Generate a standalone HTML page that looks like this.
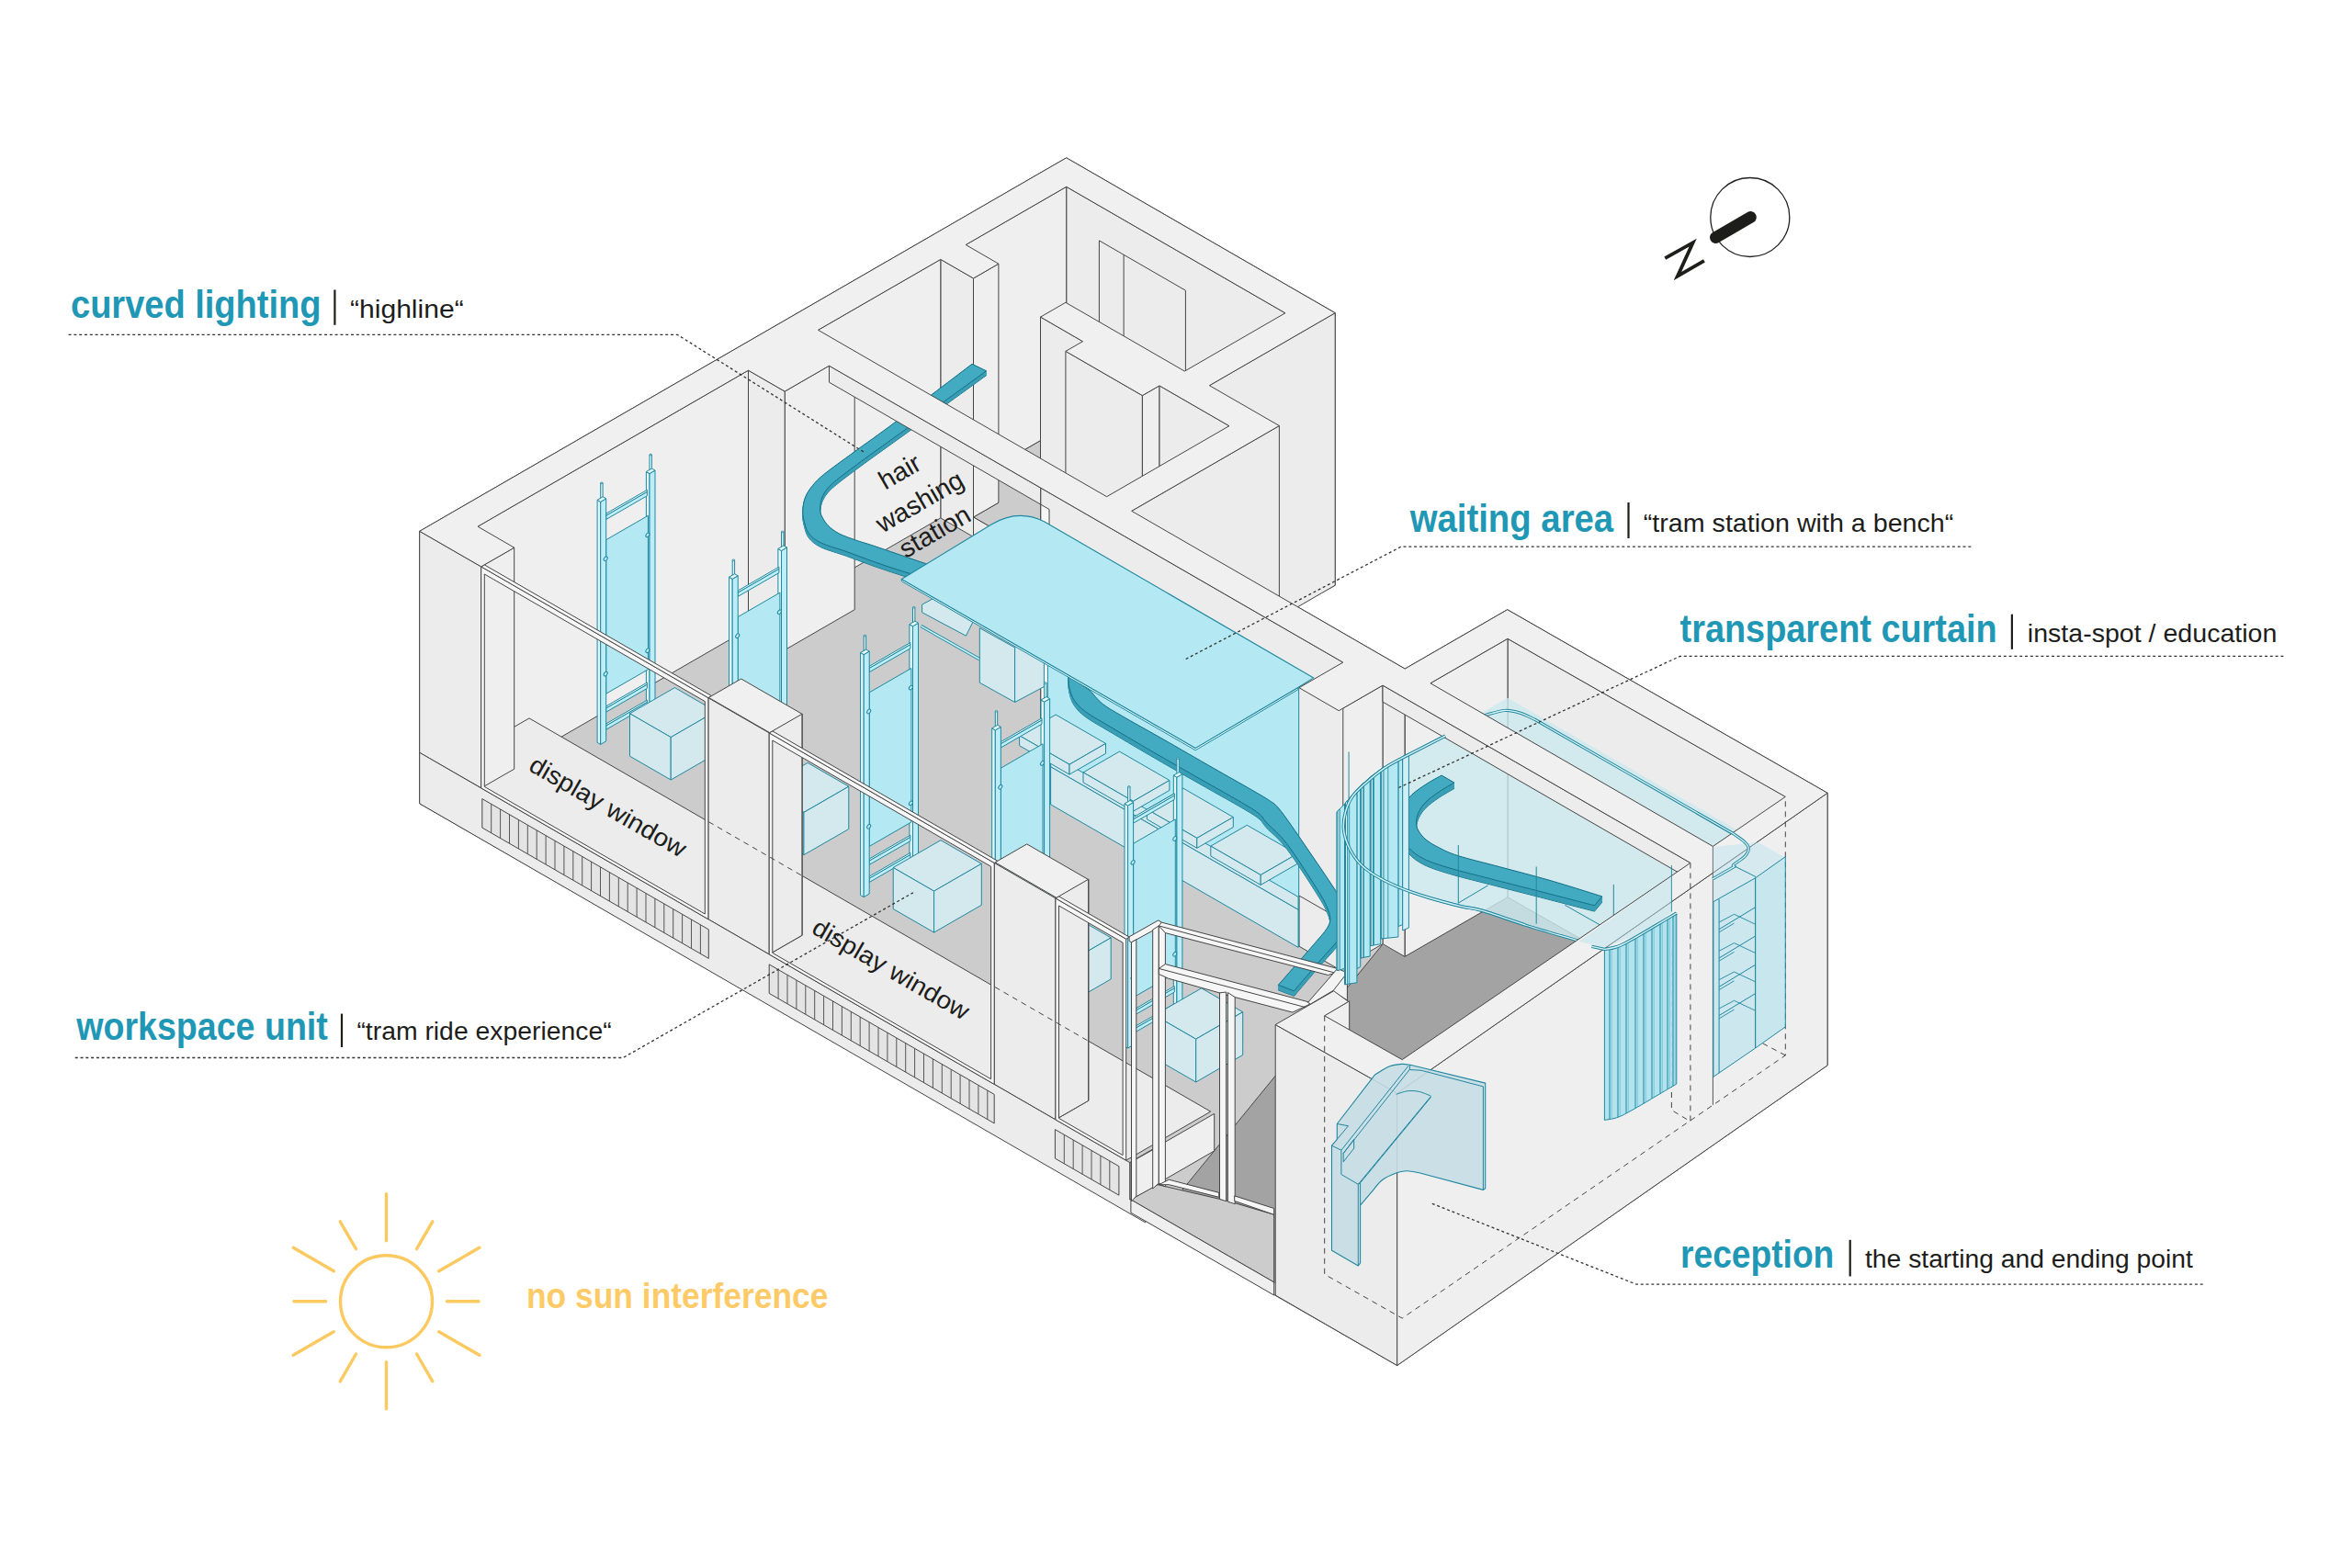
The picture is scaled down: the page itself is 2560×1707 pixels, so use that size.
<!DOCTYPE html>
<html><head><meta charset="utf-8"><title>diagram</title>
<style>html,body{margin:0;padding:0;background:#fff}svg{display:block}text{font-family:"Liberation Sans",sans-serif}</style>
</head><body>
<svg width="2560" height="1707" viewBox="0 0 2560 1707">
<rect width="2560" height="1707" fill="#fff"/>
<polygon points="1160.7,171.8 1453.2,340.7 1453.2,637.2 1411.4,660.1 1529.2,728.1 1640.7,663.7 1989.1,863.3 1989.1,1159.8 1520.7,1486.5 456.7,874.8 456.7,578.3" fill="#ececec" stroke="#454545" stroke-width="1"/>
<g stroke-linejoin="round">
<polygon points="1160.7,463.3 1398.9,600.8 1289.4,664.1 1159.9,589.3 1132.5,605.1 1059.5,563 1086.9,547.2 1051.2,526.5" fill="#cccccc" stroke="#454545" stroke-width="1"/>
<polygon points="1160.7,203.3 1398.9,340.8 1398.9,600.8 1160.7,463.3" fill="#ececec" stroke="#454545" stroke-width="1"/>
<polygon points="1051.2,266.5 1160.7,203.3 1160.7,463.3 1051.2,526.5" fill="#efefef" stroke="#454545" stroke-width="1"/>
<polyline points="1196.4,261.9 1196.4,483.9" stroke="#454545" stroke-width="1" fill="none"/>
<polyline points="1196.4,261.9 1290.4,316.2" stroke="#454545" stroke-width="1" fill="none"/>
<polyline points="1223.1,277.3 1223.1,499.3" stroke="#454545" stroke-width="1" fill="none"/>
<polyline points="1290.4,316.2 1290.4,538.2" stroke="#454545" stroke-width="1" fill="none"/>
<polygon points="1059.5,303 1086.9,287.2 1086.9,547.2 1059.5,563" fill="#efefef" stroke="#454545" stroke-width="1"/>
<polygon points="1316.4,419.7 1453.2,340.7 1453.2,637.2 1316.4,716.2" fill="#ececec" stroke="#454545" stroke-width="1"/>
<polygon points="1641,976.8 1946.7,1150.7 1525.7,1435.4 1441.7,1386.9 1387.7,1397.3 1262.7,1325.1 1504.7,1028.3 1529.2,1041.3" fill="#a3a3a3" stroke="none" stroke-width="1"/>
<polygon points="1023.8,563.9 1337.9,745.2 1204.6,822.2 1461.8,1002.6 1414,1030.2 1457.2,1055.2 1504.7,1028.3 1262.7,1325.1 484,875.5" fill="#cccccc" stroke="none" stroke-width="1"/>
<polyline points="1504.7,1028.3 1262.7,1325.1" stroke="#454545" stroke-width="1" fill="none"/>
<polygon points="1059.5,563 1132.5,605.1 1132.5,626.6 1059.5,584.5" fill="#ececec" stroke="#454545" stroke-width="1"/>
<polygon points="1023.8,282.4 1059.5,303 1059.5,584.5 1023.8,563.9" fill="#ececec" stroke="#454545" stroke-width="1"/>
<polygon points="890.5,359.3 1023.8,282.4 1023.8,563.9 890.5,640.8" fill="#efefef" stroke="#454545" stroke-width="1"/>
<polygon points="1132.5,345.1 1178.5,371.7 1178.5,653.2 1132.5,626.6" fill="#ececec" stroke="#454545" stroke-width="1"/>
<polygon points="1159.9,382.4 1243.4,430.6 1243.4,712.1 1159.9,663.9" fill="#ececec" stroke="#454545" stroke-width="1"/>
<polygon points="1243.4,430.6 1262,419.9 1262,701.4 1243.4,712.1" fill="#efefef" stroke="#454545" stroke-width="1"/>
<polygon points="1262,419.9 1337.9,463.7 1337.9,745.2 1262,701.4" fill="#ececec" stroke="#454545" stroke-width="1"/>
<polygon points="1231.7,556.3 1392.4,463.5 1392.4,760 1231.7,852.8" fill="#ececec" stroke="#454545" stroke-width="1"/>
<polygon points="854.2,426.1 930.2,382.2 930.2,663.7 854.2,707.6" fill="#efefef" stroke="#454545" stroke-width="1"/>
<polygon points="814.5,403.2 854.2,426.1 854.2,707.6 814.5,684.7" fill="#ececec" stroke="#454545" stroke-width="1"/>
<polygon points="520,573.2 814.5,403.2 814.5,684.7 520,854.7" fill="#efefef" stroke="#454545" stroke-width="1"/>
<polygon points="1641,695.3 1946.7,869.2 1946.7,1150.7 1641,976.8" fill="#ececec" stroke="#454545" stroke-width="1"/>
<polygon points="1529.2,759.8 1641,695.3 1641,976.8 1529.2,1041.3" fill="#efefef" stroke="#454545" stroke-width="1"/>
<polygon points="1505,746.1 1529,759.9 1529,1041.4 1505,1027.6" fill="#ececec" stroke="#454545" stroke-width="1"/>
<polygon points="1457.2,773.7 1505,746.1 1505,1027.6 1457.2,1055.2" fill="#efefef" stroke="#454545" stroke-width="1"/>
<polygon points="1414,748.7 1457.2,773.7 1457.2,1055.2 1414,1030.2" fill="#ececec" stroke="#454545" stroke-width="1"/>
</g>
<path d="M1058 401.1 C1044.2 411.5 996.6 447.8 975.3 463.7 C954 479.6 943.5 486.7 930.4 496.3 C917.3 505.9 904.5 514.9 896.7 521.3 C888.9 527.7 886.9 530.3 883.5 534.6 C880.1 538.8 877.9 542.5 876.3 546.8 C874.7 551 874 555.8 873.8 560.1 C873.6 564.4 874.2 568.1 875.3 572.4 C876.4 576.6 877.3 581.7 880.4 585.6 C883.5 589.5 886.9 592.5 893.7 595.8 C900.5 599.1 911.7 601.9 921.2 605.3 C930.8 608.7 941 612.8 951 616.3 C961 619.8 971.2 623.2 981 626.3 C990.8 629.4 1005.2 633.4 1010 634.8 L1030 625.8 C1025.5 624.3 1015.8 621.2 1002.8 616.8 C989.8 612.4 963.7 603.3 951.8 599.3 C939.9 595.3 937.8 595.1 931.4 592.8 C925 590.5 918.2 588.3 913.1 585.6 C908 582.9 904 579.8 900.8 576.4 C897.6 573 895.1 568.4 893.7 565.2 C892.4 562 892.5 560.1 892.7 557 C892.9 553.9 893.4 550.2 894.7 546.8 C896.1 543.4 897.7 540.2 900.8 536.6 C903.9 533 906.3 530.8 913.1 525.4 C919.9 520 929.3 513 941.6 504 C953.9 495 965 487.2 987 471.3 C1009 455.4 1059.2 419.1 1073.6 408.6 Z" fill="#3a9fb6" stroke="#136f86" stroke-width="1"/>
<path d="M1058 400.6 C1044.2 411 996.6 447.3 975.3 463.2 C954 479 943.5 486.2 930.4 495.8 C917.3 505.4 904.5 514.4 896.7 520.8 C888.9 527.1 886.9 529.8 883.5 534.1 C880.1 538.3 877.9 542 876.3 546.3 C874.7 550.5 874 555.3 873.8 559.6 C873.6 563.8 874.2 567.6 875.3 571.9 C876.4 576.1 877.3 581.2 880.4 585.1 C883.5 589 886.9 592 893.7 595.3 C900.5 598.5 911.7 601.4 921.2 604.8 C930.8 608.2 941 612.3 951 615.8 C961 619.3 971.2 622.7 981 625.8 C990.8 628.9 1005.2 632.9 1010 634.3 L1030 625.3 C1025.5 623.8 1015.8 620.7 1002.8 616.3 C989.8 611.9 963.7 602.8 951.8 598.8 C939.9 594.8 937.8 594.5 931.4 592.3 C925 590 918.2 587.8 913.1 585.1 C908 582.3 904 579.3 900.8 575.9 C897.6 572.5 895.1 567.9 893.7 564.7 C892.4 561.4 892.5 559.5 892.7 556.5 C892.9 553.4 893.4 549.7 894.7 546.3 C896.1 542.9 897.7 539.6 900.8 536.1 C903.9 532.5 906.3 530.3 913.1 524.9 C919.9 519.4 929.3 512.5 941.6 503.5 C953.9 494.4 965 486.7 987 470.8 C1009 454.9 1059.2 418.5 1073.6 408.1 Z" fill="#3a9fb6" stroke="#3a9fb6" stroke-width="0.6"/>
<path d="M1058 400 C1044.2 410.5 996.6 446.8 975.3 462.6 C954 478.5 943.5 485.6 930.4 495.2 C917.3 504.8 904.5 513.9 896.7 520.2 C888.9 526.6 886.9 529.3 883.5 533.5 C880.1 537.8 877.9 541.5 876.3 545.7 C874.7 550 874 554.8 873.8 559 C873.6 563.3 874.2 567.1 875.3 571.3 C876.4 575.6 877.3 580.6 880.4 584.5 C883.5 588.4 886.9 591.5 893.7 594.7 C900.5 598 911.7 600.8 921.2 604.2 C930.8 607.6 941 611.7 951 615.2 C961 618.7 971.2 622.1 981 625.2 C990.8 628.3 1005.2 632.3 1010 633.7 L1030 624.7 C1025.5 623.2 1015.8 620.1 1002.8 615.7 C989.8 611.3 963.7 602.2 951.8 598.2 C939.9 594.2 937.8 594 931.4 591.7 C925 589.5 918.2 587.3 913.1 584.5 C908 581.8 904 578.7 900.8 575.3 C897.6 571.9 895.1 567.4 893.7 564.1 C892.4 560.9 892.5 559 892.7 555.9 C892.9 552.9 893.4 549.1 894.7 545.7 C896.1 542.3 897.7 539.1 900.8 535.5 C903.9 532 906.3 529.8 913.1 524.3 C919.9 518.9 929.3 511.9 941.6 502.9 C953.9 493.9 965 486.1 987 470.2 C1009 454.3 1059.2 418 1073.6 407.5 Z" fill="#3a9fb6" stroke="#3a9fb6" stroke-width="0.6"/>
<path d="M1058 399.5 C1044.2 409.9 996.6 446.2 975.3 462.1 C954 478 943.5 485.1 930.4 494.7 C917.3 504.3 904.5 513.3 896.7 519.7 C888.9 526.1 886.9 528.8 883.5 533 C880.1 537.2 877.9 541 876.3 545.2 C874.7 549.5 874 554.2 873.8 558.5 C873.6 562.8 874.2 566.6 875.3 570.8 C876.4 575.1 877.3 580.1 880.4 584 C883.5 587.9 886.9 590.9 893.7 594.2 C900.5 597.5 911.7 600.3 921.2 603.7 C930.8 607.1 941 611.2 951 614.7 C961 618.2 971.2 621.6 981 624.7 C990.8 627.8 1005.2 631.8 1010 633.2 L1030 624.2 C1025.5 622.7 1015.8 619.6 1002.8 615.2 C989.8 610.8 963.7 601.7 951.8 597.7 C939.9 593.7 937.8 593.5 931.4 591.2 C925 588.9 918.2 586.7 913.1 584 C908 581.3 904 578.2 900.8 574.8 C897.6 571.4 895.1 566.8 893.7 563.6 C892.4 560.4 892.5 558.5 892.7 555.4 C892.9 552.3 893.4 548.6 894.7 545.2 C896.1 541.8 897.7 538.6 900.8 535 C903.9 531.4 906.3 529.2 913.1 523.8 C919.9 518.4 929.3 511.4 941.6 502.4 C953.9 493.4 965 485.6 987 469.7 C1009 453.8 1059.2 417.4 1073.6 407 Z" fill="#3a9fb6" stroke="#3a9fb6" stroke-width="0.6"/>
<path d="M1058 399 C1044.2 409.4 996.6 445.7 975.3 461.6 C954 477.4 943.5 484.6 930.4 494.2 C917.3 503.8 904.5 512.8 896.7 519.2 C888.9 525.5 886.9 528.2 883.5 532.5 C880.1 536.7 877.9 540.4 876.3 544.7 C874.7 548.9 874 553.7 873.8 558 C873.6 562.2 874.2 566 875.3 570.3 C876.4 574.5 877.3 579.6 880.4 583.5 C883.5 587.4 886.9 590.4 893.7 593.7 C900.5 596.9 911.7 599.8 921.2 603.2 C930.8 606.6 941 610.7 951 614.2 C961 617.7 971.2 621.1 981 624.2 C990.8 627.2 1005.2 631.2 1010 632.7 L1030 623.7 C1025.5 622.2 1015.8 619.1 1002.8 614.7 C989.8 610.2 963.7 601.2 951.8 597.2 C939.9 593.2 937.8 592.9 931.4 590.7 C925 588.4 918.2 586.2 913.1 583.5 C908 580.7 904 577.7 900.8 574.3 C897.6 570.9 895.1 566.3 893.7 563.1 C892.4 559.8 892.5 557.9 892.7 554.9 C892.9 551.8 893.4 548.1 894.7 544.7 C896.1 541.3 897.7 538 900.8 534.5 C903.9 530.9 906.3 528.7 913.1 523.3 C919.9 517.8 929.3 510.9 941.6 501.9 C953.9 492.9 965 485.1 987 469.2 C1009 453.3 1059.2 416.9 1073.6 406.5 Z" fill="#3a9fb6" stroke="#3a9fb6" stroke-width="0.6"/>
<path d="M1058 398.4 C1044.2 408.9 996.6 445.2 975.3 461 C954 476.9 943.5 484 930.4 493.6 C917.3 503.2 904.5 512.2 896.7 518.6 C888.9 525 886.9 527.7 883.5 531.9 C880.1 536.2 877.9 539.9 876.3 544.1 C874.7 548.4 874 553.2 873.8 557.4 C873.6 561.7 874.2 565.5 875.3 569.7 C876.4 574 877.3 579 880.4 582.9 C883.5 586.8 886.9 589.9 893.7 593.1 C900.5 596.4 911.7 599.2 921.2 602.6 C930.8 606 941 610.1 951 613.6 C961 617.1 971.2 620.5 981 623.6 C990.8 626.7 1005.2 630.7 1010 632.1 L1030 623.1 C1025.5 621.6 1015.8 618.5 1002.8 614.1 C989.8 609.7 963.7 600.6 951.8 596.6 C939.9 592.6 937.8 592.4 931.4 590.1 C925 587.9 918.2 585.7 913.1 582.9 C908 580.2 904 577.1 900.8 573.7 C897.6 570.3 895.1 565.8 893.7 562.5 C892.4 559.3 892.5 557.4 892.7 554.3 C892.9 551.3 893.4 547.5 894.7 544.1 C896.1 540.7 897.7 537.5 900.8 533.9 C903.9 530.4 906.3 528.2 913.1 522.7 C919.9 517.3 929.3 510.3 941.6 501.3 C953.9 492.3 965 484.5 987 468.6 C1009 452.7 1059.2 416.4 1073.6 405.9 Z" fill="#3a9fb6" stroke="#3a9fb6" stroke-width="0.6"/>
<path d="M1058 397.9 C1044.2 408.3 996.6 444.6 975.3 460.5 C954 476.4 943.5 483.5 930.4 493.1 C917.3 502.7 904.5 511.7 896.7 518.1 C888.9 524.5 886.9 527.1 883.5 531.4 C880.1 535.6 877.9 539.4 876.3 543.6 C874.7 547.9 874 552.6 873.8 556.9 C873.6 561.2 874.2 565 875.3 569.2 C876.4 573.5 877.3 578.5 880.4 582.4 C883.5 586.3 886.9 589.3 893.7 592.6 C900.5 595.9 911.7 598.7 921.2 602.1 C930.8 605.5 941 609.6 951 613.1 C961 616.6 971.2 620 981 623.1 C990.8 626.2 1005.2 630.2 1010 631.6 L1030 622.6 C1025.5 621.1 1015.8 618 1002.8 613.6 C989.8 609.2 963.7 600.1 951.8 596.1 C939.9 592.1 937.8 591.9 931.4 589.6 C925 587.3 918.2 585.1 913.1 582.4 C908 579.7 904 576.6 900.8 573.2 C897.6 569.8 895.1 565.2 893.7 562 C892.4 558.8 892.5 556.9 892.7 553.8 C892.9 550.7 893.4 547 894.7 543.6 C896.1 540.2 897.7 537 900.8 533.4 C903.9 529.8 906.3 527.6 913.1 522.2 C919.9 516.8 929.3 509.8 941.6 500.8 C953.9 491.8 965 484 987 468.1 C1009 452.2 1059.2 415.9 1073.6 405.4 Z" fill="#3a9fb6" stroke="#3a9fb6" stroke-width="0.6"/>
<path d="M1058 397.4 C1044.2 407.8 996.6 444.1 975.3 460 C954 475.8 943.5 483 930.4 492.6 C917.3 502.2 904.5 511.2 896.7 517.6 C888.9 524 886.9 526.6 883.5 530.9 C880.1 535.1 877.9 538.8 876.3 543.1 C874.7 547.3 874 552.1 873.8 556.4 C873.6 560.6 874.2 564.4 875.3 568.7 C876.4 572.9 877.3 578 880.4 581.9 C883.5 585.8 886.9 588.8 893.7 592.1 C900.5 595.4 911.7 598.2 921.2 601.6 C930.8 605 941 609.1 951 612.6 C961 616.1 971.2 619.5 981 622.6 C990.8 625.7 1005.2 629.7 1010 631.1 L1030 622.1 C1025.5 620.6 1015.8 617.5 1002.8 613.1 C989.8 608.7 963.7 599.6 951.8 595.6 C939.9 591.6 937.8 591.4 931.4 589.1 C925 586.8 918.2 584.6 913.1 581.9 C908 579.1 904 576.1 900.8 572.7 C897.6 569.3 895.1 564.7 893.7 561.5 C892.4 558.2 892.5 556.3 892.7 553.3 C892.9 550.2 893.4 546.5 894.7 543.1 C896.1 539.7 897.7 536.4 900.8 532.9 C903.9 529.3 906.3 527.1 913.1 521.7 C919.9 516.2 929.3 509.3 941.6 500.3 C953.9 491.2 965 483.5 987 467.6 C1009 451.7 1059.2 415.3 1073.6 404.9 Z" fill="#3a9fb6" stroke="#3a9fb6" stroke-width="0.6"/>
<path d="M1058 396.8 C1044.2 407.3 996.6 443.6 975.3 459.4 C954 475.3 943.5 482.4 930.4 492 C917.3 501.6 904.5 510.6 896.7 517 C888.9 523.4 886.9 526.1 883.5 530.3 C880.1 534.6 877.9 538.3 876.3 542.5 C874.7 546.8 874 551.6 873.8 555.8 C873.6 560.1 874.2 563.9 875.3 568.1 C876.4 572.4 877.3 577.4 880.4 581.3 C883.5 585.2 886.9 588.2 893.7 591.5 C900.5 594.8 911.7 597.6 921.2 601 C930.8 604.4 941 608.5 951 612 C961 615.5 971.2 618.9 981 622 C990.8 625.1 1005.2 629.1 1010 630.5 L1030 621.5 C1025.5 620 1015.8 616.9 1002.8 612.5 C989.8 608.1 963.7 599 951.8 595 C939.9 591 937.8 590.8 931.4 588.5 C925 586.2 918.2 584.1 913.1 581.3 C908 578.6 904 575.5 900.8 572.1 C897.6 568.7 895.1 564.2 893.7 560.9 C892.4 557.7 892.5 555.8 892.7 552.7 C892.9 549.7 893.4 545.9 894.7 542.5 C896.1 539.1 897.7 535.9 900.8 532.3 C903.9 528.8 906.3 526.6 913.1 521.1 C919.9 515.7 929.3 508.8 941.6 499.7 C953.9 490.7 965 482.9 987 467 C1009 451.1 1059.2 414.8 1073.6 404.3 Z" fill="#3a9fb6" stroke="#3a9fb6" stroke-width="0.6"/>
<path d="M1058 396.3 C1044.2 406.7 996.6 443 975.3 458.9 C954 474.8 943.5 481.9 930.4 491.5 C917.3 501.1 904.5 510.1 896.7 516.5 C888.9 522.9 886.9 525.5 883.5 529.8 C880.1 534 877.9 537.8 876.3 542 C874.7 546.2 874 551 873.8 555.3 C873.6 559.6 874.2 563.4 875.3 567.6 C876.4 571.9 877.3 576.9 880.4 580.8 C883.5 584.7 886.9 587.7 893.7 591 C900.5 594.3 911.7 597.1 921.2 600.5 C930.8 603.9 941 608 951 611.5 C961 615 971.2 618.4 981 621.5 C990.8 624.6 1005.2 628.6 1010 630 L1030 621 C1025.5 619.5 1015.8 616.4 1002.8 612 C989.8 607.6 963.7 598.5 951.8 594.5 C939.9 590.5 937.8 590.3 931.4 588 C925 585.7 918.2 583.5 913.1 580.8 C908 578.1 904 575 900.8 571.6 C897.6 568.2 895.1 563.6 893.7 560.4 C892.4 557.2 892.5 555.3 892.7 552.2 C892.9 549.1 893.4 545.4 894.7 542 C896.1 538.6 897.7 535.4 900.8 531.8 C903.9 528.2 906.3 526 913.1 520.6 C919.9 515.2 929.3 508.2 941.6 499.2 C953.9 490.2 965 482.4 987 466.5 C1009 450.6 1059.2 414.2 1073.6 403.8 Z" fill="#43abc1" stroke="#136f86" stroke-width="1"/>
<path d="M1641 759.8 L1942.4 933.3 L1942.4 946.5 L1819.6 993.5 L1764.5 1030.2 C1761.8 1030.5 1756 1033.2 1748.2 1032.2 C1740.4 1031.2 1722.7 1025.4 1717.6 1024.1 C1708 1021.2 1677.3 1012.5 1660 1007 C1642.7 1001.5 1625.2 994.8 1613.5 991.4 C1601.8 988 1599.8 989 1590 986.6 C1580.2 984.2 1565.8 980.5 1554.4 977 C1543.1 973.5 1531.5 969.6 1521.9 965.6 C1512.3 961.6 1504 957.4 1497 953.1 C1490 948.8 1484.6 944.8 1479.8 939.7 C1475 934.6 1471.2 928.6 1468.3 922.5 C1465.4 916.4 1463.2 909.7 1462.5 903.3 C1461.8 896.9 1462.8 890.2 1464.4 884.2 C1466 878.2 1468.3 872.4 1472.1 867 C1475.9 861.6 1481.7 856.8 1487.4 851.7 C1493.2 846.6 1500 840.9 1506.6 836.4 C1513.1 831.9 1523.3 826.8 1526.7 824.9 L1556.9 808.3 Z" fill="#cce8ee" fill-opacity="0.8"/>
<path d="M1617.6 778.2 C1621 777.4 1631.9 773.9 1638 773.5 C1644.1 773.1 1648.9 774.5 1654.3 776.1 C1659.7 777.7 1667.9 782.1 1670.6 783.3 L1886.9 907.8 C1889 909.3 1896.5 914.2 1899.2 916.9 C1901.9 919.6 1903.3 921.5 1903.3 924.1 C1903.3 926.7 1901.9 929.3 1899.2 932.2 C1896.5 935.1 1889 939.9 1886.9 941.4 L1824.7 994.5 C1814.7 1000.5 1777.2 1023.9 1764.5 1030.2 C1751.8 1036.5 1756 1033.2 1748.2 1032.2 C1740.4 1031.2 1722.7 1025.4 1717.6 1024.1 C1708 1021.2 1677.3 1012.5 1660 1007 C1642.7 1001.5 1625.2 994.8 1613.5 991.4 C1601.8 988 1599.8 989 1590 986.6 C1580.2 984.2 1565.8 980.5 1554.4 977 C1543.1 973.5 1531.5 969.6 1521.9 965.6 C1512.3 961.6 1504 957.4 1497 953.1 C1490 948.8 1484.6 944.8 1479.8 939.7 C1475 934.6 1471.2 928.6 1468.3 922.5 C1465.4 916.4 1463.2 909.7 1462.5 903.3 C1461.8 896.9 1462.8 890.2 1464.4 884.2 C1466 878.2 1468.3 872.4 1472.1 867 C1475.9 861.6 1481.7 856.8 1487.4 851.7 C1493.2 846.6 1500 840.9 1506.6 836.4 C1513.1 831.9 1523.3 826.8 1526.7 824.9 Z" fill="none" stroke="#1f879f" stroke-width="3.2"/>
<path d="M1617.6 778.2 C1621 777.4 1631.9 773.9 1638 773.5 C1644.1 773.1 1648.9 774.5 1654.3 776.1 C1659.7 777.7 1667.9 782.1 1670.6 783.3 L1886.9 907.8 C1889 909.3 1896.5 914.2 1899.2 916.9 C1901.9 919.6 1903.3 921.5 1903.3 924.1 C1903.3 926.7 1901.9 929.3 1899.2 932.2 C1896.5 935.1 1889 939.9 1886.9 941.4 L1824.7 994.5 C1814.7 1000.5 1777.2 1023.9 1764.5 1030.2 C1751.8 1036.5 1756 1033.2 1748.2 1032.2 C1740.4 1031.2 1722.7 1025.4 1717.6 1024.1 C1708 1021.2 1677.3 1012.5 1660 1007 C1642.7 1001.5 1625.2 994.8 1613.5 991.4 C1601.8 988 1599.8 989 1590 986.6 C1580.2 984.2 1565.8 980.5 1554.4 977 C1543.1 973.5 1531.5 969.6 1521.9 965.6 C1512.3 961.6 1504 957.4 1497 953.1 C1490 948.8 1484.6 944.8 1479.8 939.7 C1475 934.6 1471.2 928.6 1468.3 922.5 C1465.4 916.4 1463.2 909.7 1462.5 903.3 C1461.8 896.9 1462.8 890.2 1464.4 884.2 C1466 878.2 1468.3 872.4 1472.1 867 C1475.9 861.6 1481.7 856.8 1487.4 851.7 C1493.2 846.6 1500 840.9 1506.6 836.4 C1513.1 831.9 1523.3 826.8 1526.7 824.9 Z" fill="none" stroke="#d9f3f8" stroke-width="1.3"/>
<polyline points="1703.3,985.3 1764.5,1020" stroke="#1f879f" stroke-width="1" fill="none"/>
<polyline points="1586.9,983.3 1619.6,963.9" stroke="#1f879f" stroke-width="1" fill="none"/>
<path d="M1569.1 850.4 C1566.4 851.9 1558.5 855.9 1553.1 859.5 C1547.6 863 1540.9 867.4 1536.5 871.6 C1532.1 875.9 1528.8 880.5 1526.5 884.9 C1524.2 889.3 1523.2 893.5 1522.7 898.2 C1522.1 902.8 1521.7 907.4 1523.4 912.5 C1525.2 917.7 1528.8 924.3 1533.2 929.1 C1537.5 933.9 1542.4 937.6 1549.7 941.3 C1557.1 945 1565.4 947.6 1577.4 951.2 C1589.4 954.8 1605.9 958.8 1621.6 962.8 C1637.3 966.9 1652.4 970.7 1671.3 975.5 C1690.3 980.4 1724.8 989.4 1735.5 992.1 L1743.8 982.2 C1734.4 979.3 1706.4 970.4 1687.9 965 C1669.4 959.7 1649.4 954.6 1632.7 950.1 C1615.9 945.6 1598.4 941.5 1587.3 938 C1576.3 934.5 1572.2 932.1 1566.3 929.1 C1560.4 926.2 1555.7 923.4 1552 920.3 C1548.2 917.1 1545.4 913.4 1543.7 910.3 C1541.9 907.2 1541.4 904.8 1541.5 901.5 C1541.5 898.2 1542.5 894.1 1544.2 890.4 C1546 886.7 1548.3 883 1552 879.4 C1555.6 875.7 1561.2 871.8 1566.3 868.3 C1571.5 864.8 1580.1 860 1582.9 858.4 Z" fill="#3a9fb6" stroke="#136f86" stroke-width="1"/>
<path d="M1569.1 849.9 C1566.4 851.4 1558.5 855.4 1553.1 858.9 C1547.6 862.5 1540.9 866.9 1536.5 871.1 C1532.1 875.3 1528.8 879.9 1526.5 884.4 C1524.2 888.8 1523.2 893 1522.7 897.6 C1522.1 902.2 1521.7 906.8 1523.4 912 C1525.2 917.2 1528.8 923.8 1533.2 928.6 C1537.5 933.4 1542.4 937.1 1549.7 940.7 C1557.1 944.4 1565.4 947.1 1577.4 950.7 C1589.4 954.3 1605.9 958.2 1621.6 962.3 C1637.3 966.4 1652.4 970.1 1671.3 975 C1690.3 979.9 1724.8 988.8 1735.5 991.6 L1743.8 981.6 C1734.4 978.8 1706.4 969.9 1687.9 964.5 C1669.4 959.2 1649.4 954.1 1632.7 949.6 C1615.9 945.1 1598.4 940.9 1587.3 937.4 C1576.3 933.9 1572.2 931.5 1566.3 928.6 C1560.4 925.6 1555.7 922.9 1552 919.7 C1548.2 916.6 1545.4 912.9 1543.7 909.8 C1541.9 906.7 1541.4 904.3 1541.5 900.9 C1541.5 897.6 1542.5 893.6 1544.2 889.9 C1546 886.2 1548.3 882.5 1552 878.8 C1555.6 875.2 1561.2 871.3 1566.3 867.8 C1571.5 864.3 1580.1 859.5 1582.9 857.8 Z" fill="#3a9fb6" stroke="#3a9fb6" stroke-width="0.6"/>
<path d="M1569.1 849.3 C1566.4 850.9 1558.5 854.9 1553.1 858.4 C1547.6 862 1540.9 866.3 1536.5 870.6 C1532.1 874.8 1528.8 879.4 1526.5 883.8 C1524.2 888.3 1523.2 892.5 1522.7 897.1 C1522.1 901.7 1521.7 906.3 1523.4 911.5 C1525.2 916.6 1528.8 923.3 1533.2 928.1 C1537.5 932.8 1542.4 936.5 1549.7 940.2 C1557.1 943.9 1565.4 946.6 1577.4 950.2 C1589.4 953.8 1605.9 957.7 1621.6 961.8 C1637.3 965.8 1652.4 969.6 1671.3 974.5 C1690.3 979.4 1724.8 988.3 1735.5 991.1 L1743.8 981.1 C1734.4 978.3 1706.4 969.3 1687.9 964 C1669.4 958.6 1649.4 953.6 1632.7 949.1 C1615.9 944.5 1598.4 940.4 1587.3 936.9 C1576.3 933.4 1572.2 931 1566.3 928.1 C1560.4 925.1 1555.7 922.3 1552 919.2 C1548.2 916.1 1545.4 912.4 1543.7 909.3 C1541.9 906.1 1541.4 903.7 1541.5 900.4 C1541.5 897.1 1542.5 893.1 1544.2 889.4 C1546 885.7 1548.3 882 1552 878.3 C1555.6 874.6 1561.2 870.8 1566.3 867.3 C1571.5 863.8 1580.1 859 1582.9 857.3 Z" fill="#3a9fb6" stroke="#3a9fb6" stroke-width="0.6"/>
<path d="M1569.1 848.8 C1566.4 850.3 1558.5 854.4 1553.1 857.9 C1547.6 861.4 1540.9 865.8 1536.5 870 C1532.1 874.3 1528.8 878.9 1526.5 883.3 C1524.2 887.7 1523.2 892 1522.7 896.6 C1522.1 901.2 1521.7 905.8 1523.4 911 C1525.2 916.1 1528.8 922.7 1533.2 927.5 C1537.5 932.3 1542.4 936 1549.7 939.7 C1557.1 943.4 1565.4 946 1577.4 949.6 C1589.4 953.2 1605.9 957.2 1621.6 961.2 C1637.3 965.3 1652.4 969.1 1671.3 974 C1690.3 978.8 1724.8 987.8 1735.5 990.5 L1743.8 980.6 C1734.4 977.7 1706.4 968.8 1687.9 963.5 C1669.4 958.1 1649.4 953.1 1632.7 948.5 C1615.9 944 1598.4 939.9 1587.3 936.4 C1576.3 932.9 1572.2 930.5 1566.3 927.5 C1560.4 924.6 1555.7 921.8 1552 918.7 C1548.2 915.6 1545.4 911.9 1543.7 908.7 C1541.9 905.6 1541.4 903.2 1541.5 899.9 C1541.5 896.6 1542.5 892.5 1544.2 888.8 C1546 885.2 1548.3 881.5 1552 877.8 C1555.6 874.1 1561.2 870.2 1566.3 866.7 C1571.5 863.2 1580.1 858.4 1582.9 856.8 Z" fill="#3a9fb6" stroke="#3a9fb6" stroke-width="0.6"/>
<path d="M1569.1 848.3 C1566.4 849.8 1558.5 853.8 1553.1 857.4 C1547.6 860.9 1540.9 865.3 1536.5 869.5 C1532.1 873.8 1528.8 878.4 1526.5 882.8 C1524.2 887.2 1523.2 891.4 1522.7 896.1 C1522.1 900.7 1521.7 905.3 1523.4 910.4 C1525.2 915.6 1528.8 922.2 1533.2 927 C1537.5 931.8 1542.4 935.5 1549.7 939.2 C1557.1 942.9 1565.4 945.5 1577.4 949.1 C1589.4 952.7 1605.9 956.7 1621.6 960.7 C1637.3 964.8 1652.4 968.6 1671.3 973.4 C1690.3 978.3 1724.8 987.3 1735.5 990 L1743.8 980.1 C1734.4 977.2 1706.4 968.3 1687.9 962.9 C1669.4 957.6 1649.4 952.5 1632.7 948 C1615.9 943.5 1598.4 939.4 1587.3 935.9 C1576.3 932.4 1572.2 930 1566.3 927 C1560.4 924.1 1555.7 921.3 1552 918.2 C1548.2 915 1545.4 911.3 1543.7 908.2 C1541.9 905.1 1541.4 902.7 1541.5 899.4 C1541.5 896.1 1542.5 892 1544.2 888.3 C1546 884.6 1548.3 880.9 1552 877.3 C1555.6 873.6 1561.2 869.7 1566.3 866.2 C1571.5 862.7 1580.1 857.9 1582.9 856.3 Z" fill="#3a9fb6" stroke="#3a9fb6" stroke-width="0.6"/>
<path d="M1569.1 847.8 C1566.4 849.3 1558.5 853.3 1553.1 856.8 C1547.6 860.4 1540.9 864.8 1536.5 869 C1532.1 873.2 1528.8 877.8 1526.5 882.3 C1524.2 886.7 1523.2 890.9 1522.7 895.5 C1522.1 900.1 1521.7 904.7 1523.4 909.9 C1525.2 915.1 1528.8 921.7 1533.2 926.5 C1537.5 931.3 1542.4 935 1549.7 938.6 C1557.1 942.3 1565.4 945 1577.4 948.6 C1589.4 952.2 1605.9 956.1 1621.6 960.2 C1637.3 964.3 1652.4 968 1671.3 972.9 C1690.3 977.8 1724.8 986.7 1735.5 989.5 L1743.8 979.5 C1734.4 976.7 1706.4 967.8 1687.9 962.4 C1669.4 957.1 1649.4 952 1632.7 947.5 C1615.9 943 1598.4 938.8 1587.3 935.3 C1576.3 931.8 1572.2 929.4 1566.3 926.5 C1560.4 923.5 1555.7 920.8 1552 917.6 C1548.2 914.5 1545.4 910.8 1543.7 907.7 C1541.9 904.6 1541.4 902.2 1541.5 898.8 C1541.5 895.5 1542.5 891.5 1544.2 887.8 C1546 884.1 1548.3 880.4 1552 876.7 C1555.6 873.1 1561.2 869.2 1566.3 865.7 C1571.5 862.2 1580.1 857.4 1582.9 855.7 Z" fill="#3a9fb6" stroke="#3a9fb6" stroke-width="0.6"/>
<path d="M1569.1 847.2 C1566.4 848.8 1558.5 852.8 1553.1 856.3 C1547.6 859.9 1540.9 864.2 1536.5 868.5 C1532.1 872.7 1528.8 877.3 1526.5 881.7 C1524.2 886.2 1523.2 890.4 1522.7 895 C1522.1 899.6 1521.7 904.2 1523.4 909.4 C1525.2 914.5 1528.8 921.2 1533.2 926 C1537.5 930.7 1542.4 934.4 1549.7 938.1 C1557.1 941.8 1565.4 944.5 1577.4 948.1 C1589.4 951.7 1605.9 955.6 1621.6 959.7 C1637.3 963.7 1652.4 967.5 1671.3 972.4 C1690.3 977.3 1724.8 986.2 1735.5 989 L1743.8 979 C1734.4 976.2 1706.4 967.2 1687.9 961.9 C1669.4 956.5 1649.4 951.5 1632.7 947 C1615.9 942.4 1598.4 938.3 1587.3 934.8 C1576.3 931.3 1572.2 928.9 1566.3 926 C1560.4 923 1555.7 920.2 1552 917.1 C1548.2 914 1545.4 910.3 1543.7 907.2 C1541.9 904 1541.4 901.6 1541.5 898.3 C1541.5 895 1542.5 891 1544.2 887.3 C1546 883.6 1548.3 879.9 1552 876.2 C1555.6 872.5 1561.2 868.7 1566.3 865.2 C1571.5 861.7 1580.1 856.9 1582.9 855.2 Z" fill="#3a9fb6" stroke="#3a9fb6" stroke-width="0.6"/>
<path d="M1569.1 846.7 C1566.4 848.2 1558.5 852.3 1553.1 855.8 C1547.6 859.3 1540.9 863.7 1536.5 867.9 C1532.1 872.2 1528.8 876.8 1526.5 881.2 C1524.2 885.6 1523.2 889.9 1522.7 894.5 C1522.1 899.1 1521.7 903.7 1523.4 908.9 C1525.2 914 1528.8 920.6 1533.2 925.4 C1537.5 930.2 1542.4 933.9 1549.7 937.6 C1557.1 941.3 1565.4 943.9 1577.4 947.5 C1589.4 951.1 1605.9 955.1 1621.6 959.1 C1637.3 963.2 1652.4 967 1671.3 971.9 C1690.3 976.7 1724.8 985.7 1735.5 988.4 L1743.8 978.5 C1734.4 975.6 1706.4 966.7 1687.9 961.4 C1669.4 956 1649.4 951 1632.7 946.4 C1615.9 941.9 1598.4 937.8 1587.3 934.3 C1576.3 930.8 1572.2 928.4 1566.3 925.4 C1560.4 922.5 1555.7 919.7 1552 916.6 C1548.2 913.5 1545.4 909.8 1543.7 906.6 C1541.9 903.5 1541.4 901.1 1541.5 897.8 C1541.5 894.5 1542.5 890.4 1544.2 886.7 C1546 883.1 1548.3 879.4 1552 875.7 C1555.6 872 1561.2 868.1 1566.3 864.6 C1571.5 861.1 1580.1 856.3 1582.9 854.7 Z" fill="#3a9fb6" stroke="#3a9fb6" stroke-width="0.6"/>
<path d="M1569.1 846.2 C1566.4 847.7 1558.5 851.7 1553.1 855.3 C1547.6 858.8 1540.9 863.2 1536.5 867.4 C1532.1 871.7 1528.8 876.3 1526.5 880.7 C1524.2 885.1 1523.2 889.3 1522.7 894 C1522.1 898.6 1521.7 903.2 1523.4 908.3 C1525.2 913.5 1528.8 920.1 1533.2 924.9 C1537.5 929.7 1542.4 933.4 1549.7 937.1 C1557.1 940.8 1565.4 943.4 1577.4 947 C1589.4 950.6 1605.9 954.6 1621.6 958.6 C1637.3 962.7 1652.4 966.5 1671.3 971.3 C1690.3 976.2 1724.8 985.2 1735.5 987.9 L1743.8 978 C1734.4 975.1 1706.4 966.2 1687.9 960.8 C1669.4 955.5 1649.4 950.4 1632.7 945.9 C1615.9 941.4 1598.4 937.3 1587.3 933.8 C1576.3 930.3 1572.2 927.9 1566.3 924.9 C1560.4 922 1555.7 919.2 1552 916.1 C1548.2 912.9 1545.4 909.2 1543.7 906.1 C1541.9 903 1541.4 900.6 1541.5 897.3 C1541.5 894 1542.5 889.9 1544.2 886.2 C1546 882.5 1548.3 878.8 1552 875.2 C1555.6 871.5 1561.2 867.6 1566.3 864.1 C1571.5 860.6 1580.1 855.8 1582.9 854.2 Z" fill="#3a9fb6" stroke="#3a9fb6" stroke-width="0.6"/>
<path d="M1569.1 845.7 C1566.4 847.2 1558.5 851.2 1553.1 854.7 C1547.6 858.3 1540.9 862.7 1536.5 866.9 C1532.1 871.1 1528.8 875.7 1526.5 880.2 C1524.2 884.6 1523.2 888.8 1522.7 893.4 C1522.1 898 1521.7 902.6 1523.4 907.8 C1525.2 913 1528.8 919.6 1533.2 924.4 C1537.5 929.2 1542.4 932.9 1549.7 936.5 C1557.1 940.2 1565.4 942.9 1577.4 946.5 C1589.4 950.1 1605.9 954 1621.6 958.1 C1637.3 962.2 1652.4 965.9 1671.3 970.8 C1690.3 975.7 1724.8 984.6 1735.5 987.4 L1743.8 977.4 C1734.4 974.6 1706.4 965.7 1687.9 960.3 C1669.4 955 1649.4 949.9 1632.7 945.4 C1615.9 940.9 1598.4 936.7 1587.3 933.2 C1576.3 929.7 1572.2 927.3 1566.3 924.4 C1560.4 921.4 1555.7 918.7 1552 915.5 C1548.2 912.4 1545.4 908.7 1543.7 905.6 C1541.9 902.5 1541.4 900.1 1541.5 896.7 C1541.5 893.4 1542.5 889.4 1544.2 885.7 C1546 882 1548.3 878.3 1552 874.6 C1555.6 871 1561.2 867.1 1566.3 863.6 C1571.5 860.1 1580.1 855.3 1582.9 853.6 Z" fill="#3a9fb6" stroke="#3a9fb6" stroke-width="0.6"/>
<path d="M1569.1 845.1 C1566.4 846.7 1558.5 850.7 1553.1 854.2 C1547.6 857.8 1540.9 862.1 1536.5 866.4 C1532.1 870.6 1528.8 875.2 1526.5 879.6 C1524.2 884.1 1523.2 888.3 1522.7 892.9 C1522.1 897.5 1521.7 902.1 1523.4 907.3 C1525.2 912.4 1528.8 919.1 1533.2 923.9 C1537.5 928.6 1542.4 932.3 1549.7 936 C1557.1 939.7 1565.4 942.4 1577.4 946 C1589.4 949.6 1605.9 953.5 1621.6 957.6 C1637.3 961.6 1652.4 965.4 1671.3 970.3 C1690.3 975.2 1724.8 984.1 1735.5 986.9 L1743.8 976.9 C1734.4 974.1 1706.4 965.1 1687.9 959.8 C1669.4 954.4 1649.4 949.4 1632.7 944.9 C1615.9 940.3 1598.4 936.2 1587.3 932.7 C1576.3 929.2 1572.2 926.8 1566.3 923.9 C1560.4 920.9 1555.7 918.1 1552 915 C1548.2 911.9 1545.4 908.2 1543.7 905.1 C1541.9 901.9 1541.4 899.5 1541.5 896.2 C1541.5 892.9 1542.5 888.9 1544.2 885.2 C1546 881.5 1548.3 877.8 1552 874.1 C1555.6 870.4 1561.2 866.6 1566.3 863.1 C1571.5 859.6 1580.1 854.8 1582.9 853.1 Z" fill="#3a9fb6" stroke="#3a9fb6" stroke-width="0.6"/>
<path d="M1569.1 844.6 C1566.4 846.1 1558.5 850.2 1553.1 853.7 C1547.6 857.2 1540.9 861.6 1536.5 865.8 C1532.1 870.1 1528.8 874.7 1526.5 879.1 C1524.2 883.5 1523.2 887.8 1522.7 892.4 C1522.1 897 1521.7 901.6 1523.4 906.8 C1525.2 911.9 1528.8 918.5 1533.2 923.3 C1537.5 928.1 1542.4 931.8 1549.7 935.5 C1557.1 939.2 1565.4 941.8 1577.4 945.4 C1589.4 949 1605.9 953 1621.6 957 C1637.3 961.1 1652.4 964.9 1671.3 969.8 C1690.3 974.6 1724.8 983.6 1735.5 986.3 L1743.8 976.4 C1734.4 973.5 1706.4 964.6 1687.9 959.3 C1669.4 953.9 1649.4 948.9 1632.7 944.3 C1615.9 939.8 1598.4 935.7 1587.3 932.2 C1576.3 928.7 1572.2 926.3 1566.3 923.3 C1560.4 920.4 1555.7 917.6 1552 914.5 C1548.2 911.4 1545.4 907.7 1543.7 904.5 C1541.9 901.4 1541.4 899 1541.5 895.7 C1541.5 892.4 1542.5 888.3 1544.2 884.6 C1546 881 1548.3 877.3 1552 873.6 C1555.6 869.9 1561.2 866 1566.3 862.5 C1571.5 859 1580.1 854.2 1582.9 852.6 Z" fill="#3a9fb6" stroke="#3a9fb6" stroke-width="0.6"/>
<path d="M1569.1 844.1 C1566.4 845.6 1558.5 849.6 1553.1 853.2 C1547.6 856.7 1540.9 861.1 1536.5 865.3 C1532.1 869.6 1528.8 874.2 1526.5 878.6 C1524.2 883 1523.2 887.2 1522.7 891.9 C1522.1 896.5 1521.7 901.1 1523.4 906.2 C1525.2 911.4 1528.8 918 1533.2 922.8 C1537.5 927.6 1542.4 931.3 1549.7 935 C1557.1 938.7 1565.4 941.3 1577.4 944.9 C1589.4 948.5 1605.9 952.5 1621.6 956.5 C1637.3 960.6 1652.4 964.4 1671.3 969.2 C1690.3 974.1 1724.8 983.1 1735.5 985.8 L1743.8 975.9 C1734.4 973 1706.4 964.1 1687.9 958.7 C1669.4 953.4 1649.4 948.3 1632.7 943.8 C1615.9 939.3 1598.4 935.2 1587.3 931.7 C1576.3 928.2 1572.2 925.8 1566.3 922.8 C1560.4 919.9 1555.7 917.1 1552 914 C1548.2 910.8 1545.4 907.1 1543.7 904 C1541.9 900.9 1541.4 898.5 1541.5 895.2 C1541.5 891.9 1542.5 887.8 1544.2 884.1 C1546 880.4 1548.3 876.7 1552 873.1 C1555.6 869.4 1561.2 865.5 1566.3 862 C1571.5 858.5 1580.1 853.7 1582.9 852.1 Z" fill="#43abc1" stroke="#136f86" stroke-width="1"/>
<polyline points="1587.3,920 1587.3,983.3" stroke="#1f879f" stroke-width="1" fill="none"/>
<polyline points="1672.2,943.5 1672.2,1005.7" stroke="#1f879f" stroke-width="1" fill="none"/>
<polyline points="1756.3,962.9 1756.3,1022" stroke="#1f879f" stroke-width="1" fill="none"/>
<polyline points="1468.1,818.4 1468.1,879.7" stroke="#1f879f" stroke-width="1" fill="none"/>
<polyline points="1517.1,896 1517.1,991.3" stroke="#1f879f" stroke-width="1" fill="none"/>
<g stroke-linejoin="round">
<polygon points="902.5,398.2 1132.8,531.2 1132.8,549.2 902.5,416.2" fill="#ececec" stroke="#454545" stroke-width="1"/>
<polygon points="1132.8,531.2 1461.8,721.1 1461.8,1002.6 1132.8,812.7" fill="#ececec" stroke="#454545" stroke-width="1"/>
<polygon points="1132.8,549.2 1142,554.5 1142,818 1132.8,812.7" fill="#f7f7f7" stroke="#454545" stroke-width="1"/>
<polygon points="1505,746.1 1839.9,939.4 1839.9,957.4 1505,764.1" fill="#ececec" stroke="#454545" stroke-width="1"/>
</g>
<g stroke-linejoin="round">
<polygon points="1140.4,700 1413.7,745 1413.7,1030.4 1140.4,872.6" fill="#b4e9f4" stroke="#1f879f" stroke-width="1"/>
<polygon points="1003.6,658.2 1015.3,651.8 1058.9,677.3 1051.4,692.2 1003.6,666.7" fill="#d3e9ee" stroke="#1f879f" stroke-width="1"/>
<polyline points="1002.5,681.6 1066.3,717.7" stroke="#1f879f" stroke-width="3.4" fill="none"/>
<polyline points="1002.5,681.6 1066.3,717.7" stroke="#c9f1f9" stroke-width="1.6" fill="none"/>
<polygon points="1066.3,683.7 1104.6,705 1104.6,764.5 1066.3,743.2" fill="#d3e9ee" stroke="#1f879f" stroke-width="1"/>
<polygon points="1104.6,705 1136.4,686.9 1136.4,747.5 1104.6,764.5" fill="#d3e9ee" stroke="#1f879f" stroke-width="1"/>
<polygon points="1143.6,820.8 1413.1,976.4 1413.1,990.4 1143.6,834.8" fill="#d3e9ee" stroke="#1f879f" stroke-width="1"/>
<polygon points="1143.6,834.8 1413.1,990.4 1413.1,1031.4 1143.6,875.8" fill="#d3e9ee" stroke="#1f879f" stroke-width="1"/>
<polygon points="1109.6,800.8 1149.1,778 1203.5,809.4 1164,832.2" fill="#d3e9ee" stroke="#1f879f" stroke-width="1"/>
<polygon points="1109.6,800.8 1164,832.2 1164,843.1 1109.6,811.7" fill="#d3e9ee" stroke="#1f879f" stroke-width="1"/>
<polygon points="1164,832.2 1203.5,809.4 1203.5,820.3 1164,843.1" fill="#d3e9ee" stroke="#1f879f" stroke-width="1"/>
<polygon points="1179,840.9 1218.5,818.1 1272.9,849.5 1233.4,872.3" fill="#d3e9ee" stroke="#1f879f" stroke-width="1"/>
<polygon points="1179,840.9 1233.4,872.3 1233.4,883.2 1179,851.8" fill="#d3e9ee" stroke="#1f879f" stroke-width="1"/>
<polygon points="1233.4,872.3 1272.9,849.5 1272.9,860.4 1233.4,883.2" fill="#d3e9ee" stroke="#1f879f" stroke-width="1"/>
<polygon points="1248.4,881 1287.9,858.2 1342.3,889.6 1302.8,912.4" fill="#d3e9ee" stroke="#1f879f" stroke-width="1"/>
<polygon points="1248.4,881 1302.8,912.4 1302.8,923.3 1248.4,891.9" fill="#d3e9ee" stroke="#1f879f" stroke-width="1"/>
<polygon points="1302.8,912.4 1342.3,889.6 1342.3,900.5 1302.8,923.3" fill="#d3e9ee" stroke="#1f879f" stroke-width="1"/>
<polygon points="1317.8,921.1 1357.3,898.3 1411.7,929.7 1372.2,952.5" fill="#d3e9ee" stroke="#1f879f" stroke-width="1"/>
<polygon points="1317.8,921.1 1372.2,952.5 1372.2,963.4 1317.8,932" fill="#d3e9ee" stroke="#1f879f" stroke-width="1"/>
<polygon points="1372.2,952.5 1411.7,929.7 1411.7,940.6 1372.2,963.4" fill="#d3e9ee" stroke="#1f879f" stroke-width="1"/>
</g>
<path d="M1187.1 758 C1189.4 760.4 1194.3 767.4 1200.7 772.3 C1207.1 777.2 1214.3 781 1225.2 787.3 C1236.1 793.7 1250.2 801.3 1266.1 810.4 C1282 819.5 1304.6 832.6 1320.5 841.7 C1336.4 850.8 1351.1 859 1361.3 864.9 C1371.5 870.8 1376.5 873.5 1381.7 877.1 C1386.9 880.7 1387.4 880.2 1392.6 886.6 C1397.8 893 1402.9 900.4 1413.1 915.2 C1423.3 930 1445.6 962.6 1453.9 975.4 C1462.2 988.1 1461.1 986.6 1463.1 991.7 C1465.1 996.8 1466.1 1001.6 1466.1 1006 C1466.1 1010.4 1465 1014.1 1463.1 1018.3 C1461.2 1022.5 1458.9 1025.8 1454.5 1031.4 C1450.1 1036.9 1444.3 1042.8 1436.6 1051.6 C1428.9 1060.4 1413.2 1078.9 1408.5 1084.4 L1391.3 1077.9 C1395.7 1072.9 1410.5 1056 1417.5 1048.1 C1424.5 1040.1 1428.6 1035.3 1433 1030.2 C1437.4 1025 1441.2 1021.1 1443.7 1017.2 C1446.2 1013.3 1447.6 1010.9 1447.8 1007 C1448 1003.1 1447.1 999.4 1444.7 993.8 C1442.3 988.2 1440.8 985 1433.5 973.4 C1426.2 961.8 1409.9 936.4 1400.8 924.4 C1391.7 912.4 1384.2 907.2 1379 901.6 C1373.8 896 1374.7 894.8 1369.5 890.7 C1364.3 886.6 1358.1 883.2 1347.7 877.1 C1337.3 871 1322.8 863.1 1306.9 854 C1291 844.9 1269.2 832.5 1252.4 822.7 C1235.6 813 1218 802.5 1206.2 795.5 C1194.4 788.5 1187.8 785 1181.7 780.5 C1175.6 776 1172.5 772.6 1169.5 768.3 C1166.5 764 1165.1 759.2 1164 754.6 C1162.9 750 1162.9 742.9 1162.7 740.6 Z" fill="#3a9fb6" stroke="#136f86" stroke-width="1"/>
<path d="M1187.1 757.5 C1189.4 759.9 1194.3 766.9 1200.7 771.8 C1207.1 776.7 1214.3 780.4 1225.2 786.8 C1236.1 793.1 1250.2 800.8 1266.1 809.9 C1282 819 1304.6 832.1 1320.5 841.2 C1336.4 850.3 1351.1 858.5 1361.3 864.4 C1371.5 870.3 1376.5 873 1381.7 876.6 C1386.9 880.2 1387.4 879.7 1392.6 886.1 C1397.8 892.4 1402.9 899.9 1413.1 914.7 C1423.3 929.5 1445.6 962.1 1453.9 974.9 C1462.2 987.6 1461.1 986.1 1463.1 991.2 C1465.1 996.3 1466.1 1001.1 1466.1 1005.5 C1466.1 1009.9 1465 1013.6 1463.1 1017.8 C1461.2 1022 1458.9 1025.3 1454.5 1030.9 C1450.1 1036.4 1444.3 1042.3 1436.6 1051.1 C1428.9 1059.9 1413.2 1078.4 1408.5 1083.9 L1391.3 1077.4 C1395.7 1072.4 1410.5 1055.5 1417.5 1047.6 C1424.5 1039.6 1428.6 1034.8 1433 1029.7 C1437.4 1024.5 1441.2 1020.6 1443.7 1016.7 C1446.2 1012.8 1447.6 1010.4 1447.8 1006.5 C1448 1002.6 1447.1 998.9 1444.7 993.3 C1442.3 987.7 1440.8 984.5 1433.5 972.9 C1426.2 961.3 1409.9 935.9 1400.8 923.9 C1391.7 911.9 1384.2 906.7 1379 901.1 C1373.8 895.5 1374.7 894.3 1369.5 890.2 C1364.3 886.1 1358.1 882.7 1347.7 876.6 C1337.3 870.5 1322.8 862.6 1306.9 853.5 C1291 844.4 1269.2 831.9 1252.4 822.2 C1235.6 812.4 1218 802 1206.2 795 C1194.4 788 1187.8 784.5 1181.7 780 C1175.6 775.5 1172.5 772.1 1169.5 767.8 C1166.5 763.5 1165.1 758.7 1164 754.1 C1162.9 749.5 1162.9 742.4 1162.7 740.1 Z" fill="#3a9fb6" stroke="#3a9fb6" stroke-width="0.6"/>
<path d="M1187.1 757 C1189.4 759.4 1194.3 766.4 1200.7 771.3 C1207.1 776.2 1214.3 779.9 1225.2 786.3 C1236.1 792.6 1250.2 800.3 1266.1 809.4 C1282 818.4 1304.6 831.6 1320.5 840.7 C1336.4 849.8 1351.1 858 1361.3 863.9 C1371.5 869.8 1376.5 872.5 1381.7 876.1 C1386.9 879.7 1387.4 879.2 1392.6 885.6 C1397.8 891.9 1402.9 899.4 1413.1 914.2 C1423.3 929 1445.6 961.6 1453.9 974.4 C1462.2 987.1 1461.1 985.6 1463.1 990.7 C1465.1 995.8 1466.1 1000.5 1466.1 1005 C1466.1 1009.4 1465 1013 1463.1 1017.3 C1461.2 1021.5 1458.9 1024.8 1454.5 1030.4 C1450.1 1035.9 1444.3 1041.7 1436.6 1050.6 C1428.9 1059.4 1413.2 1077.9 1408.5 1083.4 L1391.3 1076.9 C1395.7 1071.9 1410.5 1055 1417.5 1047.1 C1424.5 1039.1 1428.6 1034.3 1433 1029.2 C1437.4 1024 1441.2 1020 1443.7 1016.2 C1446.2 1012.3 1447.6 1009.9 1447.8 1006 C1448 1002.1 1447.1 998.4 1444.7 992.8 C1442.3 987.2 1440.8 983.9 1433.5 972.4 C1426.2 960.8 1409.9 935.3 1400.8 923.4 C1391.7 911.4 1384.2 906.2 1379 900.6 C1373.8 895 1374.7 893.8 1369.5 889.7 C1364.3 885.6 1358.1 882.2 1347.7 876.1 C1337.3 870 1322.8 862 1306.9 853 C1291 843.9 1269.2 831.4 1252.4 821.7 C1235.6 811.9 1218 801.5 1206.2 794.5 C1194.4 787.4 1187.8 784 1181.7 779.5 C1175.6 774.9 1172.5 771.6 1169.5 767.3 C1166.5 763 1165.1 758.2 1164 753.6 C1162.9 749 1162.9 741.9 1162.7 739.6 Z" fill="#3a9fb6" stroke="#3a9fb6" stroke-width="0.6"/>
<path d="M1187.1 756.5 C1189.4 758.9 1194.3 765.9 1200.7 770.8 C1207.1 775.7 1214.3 779.4 1225.2 785.8 C1236.1 792.1 1250.2 799.8 1266.1 808.9 C1282 817.9 1304.6 831.1 1320.5 840.2 C1336.4 849.3 1351.1 857.5 1361.3 863.4 C1371.5 869.3 1376.5 872 1381.7 875.6 C1386.9 879.2 1387.4 878.7 1392.6 885.1 C1397.8 891.4 1402.9 898.9 1413.1 913.7 C1423.3 928.5 1445.6 961.1 1453.9 973.9 C1462.2 986.6 1461.1 985.1 1463.1 990.2 C1465.1 995.3 1466.1 1000 1466.1 1004.5 C1466.1 1008.9 1465 1012.5 1463.1 1016.8 C1461.2 1021 1458.9 1024.3 1454.5 1029.9 C1450.1 1035.4 1444.3 1041.2 1436.6 1050.1 C1428.9 1058.9 1413.2 1077.4 1408.5 1082.9 L1391.3 1076.4 C1395.7 1071.4 1410.5 1054.5 1417.5 1046.6 C1424.5 1038.6 1428.6 1033.8 1433 1028.7 C1437.4 1023.5 1441.2 1019.5 1443.7 1015.7 C1446.2 1011.8 1447.6 1009.4 1447.8 1005.5 C1448 1001.6 1447.1 997.9 1444.7 992.3 C1442.3 986.7 1440.8 983.4 1433.5 971.9 C1426.2 960.3 1409.9 934.8 1400.8 922.9 C1391.7 910.9 1384.2 905.7 1379 900.1 C1373.8 894.5 1374.7 893.3 1369.5 889.2 C1364.3 885.1 1358.1 881.7 1347.7 875.6 C1337.3 869.5 1322.8 861.5 1306.9 852.5 C1291 843.4 1269.2 830.9 1252.4 821.2 C1235.6 811.4 1218 801 1206.2 794 C1194.4 786.9 1187.8 783.5 1181.7 779 C1175.6 774.4 1172.5 771.1 1169.5 766.8 C1166.5 762.5 1165.1 757.7 1164 753.1 C1162.9 748.5 1162.9 741.4 1162.7 739.1 Z" fill="#3a9fb6" stroke="#3a9fb6" stroke-width="0.6"/>
<path d="M1187.1 756 C1189.4 758.3 1194.3 765.4 1200.7 770.3 C1207.1 775.1 1214.3 778.9 1225.2 785.3 C1236.1 791.6 1250.2 799.3 1266.1 808.4 C1282 817.4 1304.6 830.6 1320.5 839.7 C1336.4 848.7 1351.1 857 1361.3 862.9 C1371.5 868.8 1376.5 871.4 1381.7 875.1 C1386.9 878.7 1387.4 878.2 1392.6 884.6 C1397.8 890.9 1402.9 898.4 1413.1 913.2 C1423.3 928 1445.6 960.6 1453.9 973.4 C1462.2 986.1 1461.1 984.6 1463.1 989.7 C1465.1 994.8 1466.1 999.5 1466.1 1004 C1466.1 1008.4 1465 1012 1463.1 1016.3 C1461.2 1020.5 1458.9 1023.8 1454.5 1029.4 C1450.1 1034.9 1444.3 1040.7 1436.6 1049.6 C1428.9 1058.4 1413.2 1076.9 1408.5 1082.4 L1391.3 1075.9 C1395.7 1070.9 1410.5 1054 1417.5 1046.1 C1424.5 1038.1 1428.6 1033.3 1433 1028.2 C1437.4 1023 1441.2 1019 1443.7 1015.2 C1446.2 1011.3 1447.6 1008.9 1447.8 1005 C1448 1001.1 1447.1 997.4 1444.7 991.8 C1442.3 986.2 1440.8 982.9 1433.5 971.4 C1426.2 959.8 1409.9 934.3 1400.8 922.4 C1391.7 910.4 1384.2 905.2 1379 899.6 C1373.8 893.9 1374.7 892.7 1369.5 888.7 C1364.3 884.6 1358.1 881.2 1347.7 875.1 C1337.3 868.9 1322.8 861 1306.9 852 C1291 842.9 1269.2 830.4 1252.4 820.7 C1235.6 810.9 1218 800.5 1206.2 793.5 C1194.4 786.4 1187.8 783 1181.7 778.5 C1175.6 773.9 1172.5 770.6 1169.5 766.3 C1166.5 761.9 1165.1 757.2 1164 752.6 C1162.9 747.9 1162.9 740.9 1162.7 738.6 Z" fill="#3a9fb6" stroke="#3a9fb6" stroke-width="0.6"/>
<path d="M1187.1 755.5 C1189.4 757.8 1194.3 764.9 1200.7 769.8 C1207.1 774.6 1214.3 778.4 1225.2 784.8 C1236.1 791.1 1250.2 798.8 1266.1 807.9 C1282 816.9 1304.6 830.1 1320.5 839.2 C1336.4 848.2 1351.1 856.5 1361.3 862.4 C1371.5 868.3 1376.5 870.9 1381.7 874.6 C1386.9 878.2 1387.4 877.7 1392.6 884.1 C1397.8 890.4 1402.9 897.9 1413.1 912.7 C1423.3 927.5 1445.6 960.1 1453.9 972.9 C1462.2 985.6 1461.1 984.1 1463.1 989.2 C1465.1 994.3 1466.1 999 1466.1 1003.5 C1466.1 1007.9 1465 1011.5 1463.1 1015.8 C1461.2 1020 1458.9 1023.3 1454.5 1028.9 C1450.1 1034.4 1444.3 1040.2 1436.6 1049.1 C1428.9 1057.9 1413.2 1076.4 1408.5 1081.9 L1391.3 1075.4 C1395.7 1070.4 1410.5 1053.5 1417.5 1045.6 C1424.5 1037.6 1428.6 1032.8 1433 1027.7 C1437.4 1022.5 1441.2 1018.5 1443.7 1014.7 C1446.2 1010.8 1447.6 1008.4 1447.8 1004.5 C1448 1000.6 1447.1 996.9 1444.7 991.3 C1442.3 985.7 1440.8 982.4 1433.5 970.9 C1426.2 959.3 1409.9 933.8 1400.8 921.9 C1391.7 909.9 1384.2 904.7 1379 899.1 C1373.8 893.4 1374.7 892.2 1369.5 888.2 C1364.3 884.1 1358.1 880.7 1347.7 874.6 C1337.3 868.4 1322.8 860.5 1306.9 851.5 C1291 842.4 1269.2 829.9 1252.4 820.2 C1235.6 810.4 1218 800 1206.2 793 C1194.4 785.9 1187.8 782.5 1181.7 778 C1175.6 773.4 1172.5 770.1 1169.5 765.8 C1166.5 761.4 1165.1 756.7 1164 752.1 C1162.9 747.4 1162.9 740.4 1162.7 738.1 Z" fill="#3a9fb6" stroke="#3a9fb6" stroke-width="0.6"/>
<path d="M1187.1 754.9 C1189.4 757.3 1194.3 764.4 1200.7 769.2 C1207.1 774.1 1214.3 777.9 1225.2 784.2 C1236.1 790.6 1250.2 798.3 1266.1 807.3 C1282 816.4 1304.6 829.6 1320.5 838.6 C1336.4 847.7 1351.1 855.9 1361.3 861.8 C1371.5 867.7 1376.5 870.4 1381.7 874 C1386.9 877.7 1387.4 877.2 1392.6 883.5 C1397.8 889.9 1402.9 897.3 1413.1 912.1 C1423.3 926.9 1445.6 959.6 1453.9 972.3 C1462.2 985.1 1461.1 983.5 1463.1 988.6 C1465.1 993.7 1466.1 998.5 1466.1 1002.9 C1466.1 1007.4 1465 1011 1463.1 1015.2 C1461.2 1019.5 1458.9 1022.8 1454.5 1028.3 C1450.1 1033.9 1444.3 1039.7 1436.6 1048.5 C1428.9 1057.4 1413.2 1075.9 1408.5 1081.3 L1391.3 1074.8 C1395.7 1069.9 1410.5 1053 1417.5 1045 C1424.5 1037.1 1428.6 1032.3 1433 1027.1 C1437.4 1022 1441.2 1018 1443.7 1014.1 C1446.2 1010.3 1447.6 1007.8 1447.8 1003.9 C1448 1000 1447.1 996.3 1444.7 990.7 C1442.3 985.1 1440.8 981.9 1433.5 970.3 C1426.2 958.8 1409.9 933.3 1400.8 921.3 C1391.7 909.4 1384.2 904.2 1379 898.5 C1373.8 892.9 1374.7 891.7 1369.5 887.6 C1364.3 883.6 1358.1 880.2 1347.7 874 C1337.3 867.9 1322.8 860 1306.9 850.9 C1291 841.9 1269.2 829.4 1252.4 819.6 C1235.6 809.9 1218 799.5 1206.2 792.4 C1194.4 785.4 1187.8 782 1181.7 777.4 C1175.6 772.9 1172.5 769.6 1169.5 765.2 C1166.5 760.9 1165.1 756.2 1164 751.5 C1162.9 746.9 1162.9 739.9 1162.7 737.5 Z" fill="#3a9fb6" stroke="#3a9fb6" stroke-width="0.6"/>
<path d="M1187.1 754.4 C1189.4 756.8 1194.3 763.9 1200.7 768.7 C1207.1 773.6 1214.3 777.4 1225.2 783.7 C1236.1 790.1 1250.2 797.8 1266.1 806.8 C1282 815.9 1304.6 829.1 1320.5 838.1 C1336.4 847.2 1351.1 855.4 1361.3 861.3 C1371.5 867.2 1376.5 869.9 1381.7 873.5 C1386.9 877.2 1387.4 876.7 1392.6 883 C1397.8 889.4 1402.9 896.8 1413.1 911.6 C1423.3 926.4 1445.6 959.1 1453.9 971.8 C1462.2 984.6 1461.1 983 1463.1 988.1 C1465.1 993.2 1466.1 998 1466.1 1002.4 C1466.1 1006.9 1465 1010.5 1463.1 1014.7 C1461.2 1019 1458.9 1022.3 1454.5 1027.8 C1450.1 1033.4 1444.3 1039.2 1436.6 1048 C1428.9 1056.9 1413.2 1075.4 1408.5 1080.8 L1391.3 1074.3 C1395.7 1069.4 1410.5 1052.5 1417.5 1044.5 C1424.5 1036.6 1428.6 1031.8 1433 1026.6 C1437.4 1021.5 1441.2 1017.5 1443.7 1013.6 C1446.2 1009.8 1447.6 1007.3 1447.8 1003.4 C1448 999.5 1447.1 995.8 1444.7 990.2 C1442.3 984.6 1440.8 981.4 1433.5 969.8 C1426.2 958.3 1409.9 932.8 1400.8 920.8 C1391.7 908.9 1384.2 903.7 1379 898 C1373.8 892.4 1374.7 891.2 1369.5 887.1 C1364.3 883.1 1358.1 879.7 1347.7 873.5 C1337.3 867.4 1322.8 859.5 1306.9 850.4 C1291 841.4 1269.2 828.9 1252.4 819.1 C1235.6 809.4 1218 799 1206.2 791.9 C1194.4 784.9 1187.8 781.5 1181.7 776.9 C1175.6 772.4 1172.5 769.1 1169.5 764.7 C1166.5 760.4 1165.1 755.7 1164 751 C1162.9 746.4 1162.9 739.4 1162.7 737 Z" fill="#3a9fb6" stroke="#3a9fb6" stroke-width="0.6"/>
<path d="M1187.1 753.9 C1189.4 756.3 1194.3 763.3 1200.7 768.2 C1207.1 773.1 1214.3 776.9 1225.2 783.2 C1236.1 789.6 1250.2 797.3 1266.1 806.3 C1282 815.4 1304.6 828.5 1320.5 837.6 C1336.4 846.7 1351.1 854.9 1361.3 860.8 C1371.5 866.7 1376.5 869.4 1381.7 873 C1386.9 876.6 1387.4 876.2 1392.6 882.5 C1397.8 888.9 1402.9 896.3 1413.1 911.1 C1423.3 925.9 1445.6 958.6 1453.9 971.3 C1462.2 984.1 1461.1 982.5 1463.1 987.6 C1465.1 992.7 1466.1 997.5 1466.1 1001.9 C1466.1 1006.4 1465 1010 1463.1 1014.2 C1461.2 1018.5 1458.9 1021.8 1454.5 1027.3 C1450.1 1032.9 1444.3 1038.7 1436.6 1047.5 C1428.9 1056.4 1413.2 1074.9 1408.5 1080.3 L1391.3 1073.8 C1395.7 1068.9 1410.5 1052 1417.5 1044 C1424.5 1036.1 1428.6 1031.3 1433 1026.1 C1437.4 1021 1441.2 1017 1443.7 1013.1 C1446.2 1009.3 1447.6 1006.8 1447.8 1002.9 C1448 999 1447.1 995.3 1444.7 989.7 C1442.3 984.1 1440.8 980.9 1433.5 969.3 C1426.2 957.8 1409.9 932.3 1400.8 920.3 C1391.7 908.4 1384.2 903.1 1379 897.5 C1373.8 891.9 1374.7 890.7 1369.5 886.6 C1364.3 882.5 1358.1 879.1 1347.7 873 C1337.3 866.9 1322.8 859 1306.9 849.9 C1291 840.9 1269.2 828.4 1252.4 818.6 C1235.6 808.9 1218 798.5 1206.2 791.4 C1194.4 784.4 1187.8 781 1181.7 776.4 C1175.6 771.9 1172.5 768.5 1169.5 764.2 C1166.5 759.9 1165.1 755.1 1164 750.5 C1162.9 745.9 1162.9 738.9 1162.7 736.5 Z" fill="#3a9fb6" stroke="#3a9fb6" stroke-width="0.6"/>
<path d="M1187.1 753.4 C1189.4 755.8 1194.3 762.8 1200.7 767.7 C1207.1 772.6 1214.3 776.4 1225.2 782.7 C1236.1 789.1 1250.2 796.8 1266.1 805.8 C1282 814.9 1304.6 828 1320.5 837.1 C1336.4 846.2 1351.1 854.4 1361.3 860.3 C1371.5 866.2 1376.5 868.9 1381.7 872.5 C1386.9 876.1 1387.4 875.7 1392.6 882 C1397.8 888.4 1402.9 895.8 1413.1 910.6 C1423.3 925.4 1445.6 958.1 1453.9 970.8 C1462.2 983.6 1461.1 982 1463.1 987.1 C1465.1 992.2 1466.1 997 1466.1 1001.4 C1466.1 1005.9 1465 1009.5 1463.1 1013.7 C1461.2 1018 1458.9 1021.3 1454.5 1026.8 C1450.1 1032.4 1444.3 1038.2 1436.6 1047 C1428.9 1055.9 1413.2 1074.4 1408.5 1079.8 L1391.3 1073.3 C1395.7 1068.4 1410.5 1051.5 1417.5 1043.5 C1424.5 1035.6 1428.6 1030.8 1433 1025.6 C1437.4 1020.5 1441.2 1016.5 1443.7 1012.6 C1446.2 1008.8 1447.6 1006.3 1447.8 1002.4 C1448 998.5 1447.1 994.8 1444.7 989.2 C1442.3 983.6 1440.8 980.4 1433.5 968.8 C1426.2 957.3 1409.9 931.8 1400.8 919.8 C1391.7 907.9 1384.2 902.6 1379 897 C1373.8 891.4 1374.7 890.2 1369.5 886.1 C1364.3 882 1358.1 878.6 1347.7 872.5 C1337.3 866.4 1322.8 858.5 1306.9 849.4 C1291 840.4 1269.2 827.9 1252.4 818.1 C1235.6 808.4 1218 798 1206.2 790.9 C1194.4 783.9 1187.8 780.5 1181.7 775.9 C1175.6 771.4 1172.5 768 1169.5 763.7 C1166.5 759.4 1165.1 754.6 1164 750 C1162.9 745.4 1162.9 738.4 1162.7 736 Z" fill="#3a9fb6" stroke="#3a9fb6" stroke-width="0.6"/>
<path d="M1187.1 752.9 C1189.4 755.3 1194.3 762.3 1200.7 767.2 C1207.1 772.1 1214.3 775.9 1225.2 782.2 C1236.1 788.6 1250.2 796.2 1266.1 805.3 C1282 814.4 1304.6 827.5 1320.5 836.6 C1336.4 845.7 1351.1 853.9 1361.3 859.8 C1371.5 865.7 1376.5 868.4 1381.7 872 C1386.9 875.6 1387.4 875.2 1392.6 881.5 C1397.8 887.9 1402.9 895.3 1413.1 910.1 C1423.3 924.9 1445.6 957.6 1453.9 970.3 C1462.2 983.1 1461.1 981.5 1463.1 986.6 C1465.1 991.7 1466.1 996.5 1466.1 1000.9 C1466.1 1005.3 1465 1009 1463.1 1013.2 C1461.2 1017.4 1458.9 1020.8 1454.5 1026.3 C1450.1 1031.9 1444.3 1037.7 1436.6 1046.5 C1428.9 1055.3 1413.2 1073.8 1408.5 1079.3 L1391.3 1072.8 C1395.7 1067.8 1410.5 1051 1417.5 1043 C1424.5 1035.1 1428.6 1030.3 1433 1025.1 C1437.4 1020 1441.2 1016 1443.7 1012.1 C1446.2 1008.2 1447.6 1005.8 1447.8 1001.9 C1448 998 1447.1 994.3 1444.7 988.7 C1442.3 983.1 1440.8 979.9 1433.5 968.3 C1426.2 956.7 1409.9 931.3 1400.8 919.3 C1391.7 907.3 1384.2 902.1 1379 896.5 C1373.8 890.9 1374.7 889.7 1369.5 885.6 C1364.3 881.5 1358.1 878.1 1347.7 872 C1337.3 865.9 1322.8 858 1306.9 848.9 C1291 839.8 1269.2 827.4 1252.4 817.6 C1235.6 807.9 1218 797.4 1206.2 790.4 C1194.4 783.4 1187.8 779.9 1181.7 775.4 C1175.6 770.9 1172.5 767.5 1169.5 763.2 C1166.5 758.9 1165.1 754.1 1164 749.5 C1162.9 744.9 1162.9 737.8 1162.7 735.5 Z" fill="#3a9fb6" stroke="#3a9fb6" stroke-width="0.6"/>
<path d="M1187.1 752.4 C1189.4 754.8 1194.3 761.8 1200.7 766.7 C1207.1 771.6 1214.3 775.4 1225.2 781.7 C1236.1 788.1 1250.2 795.7 1266.1 804.8 C1282 813.9 1304.6 827 1320.5 836.1 C1336.4 845.2 1351.1 853.4 1361.3 859.3 C1371.5 865.2 1376.5 867.9 1381.7 871.5 C1386.9 875.1 1387.4 874.6 1392.6 881 C1397.8 887.4 1402.9 894.8 1413.1 909.6 C1423.3 924.4 1445.6 957 1453.9 969.8 C1462.2 982.5 1461.1 981 1463.1 986.1 C1465.1 991.2 1466.1 996 1466.1 1000.4 C1466.1 1004.8 1465 1008.5 1463.1 1012.7 C1461.2 1016.9 1458.9 1020.2 1454.5 1025.8 C1450.1 1031.3 1444.3 1037.2 1436.6 1046 C1428.9 1054.8 1413.2 1073.3 1408.5 1078.8 L1391.3 1072.3 C1395.7 1067.3 1410.5 1050.5 1417.5 1042.5 C1424.5 1034.5 1428.6 1029.8 1433 1024.6 C1437.4 1019.4 1441.2 1015.5 1443.7 1011.6 C1446.2 1007.7 1447.6 1005.3 1447.8 1001.4 C1448 997.5 1447.1 993.8 1444.7 988.2 C1442.3 982.6 1440.8 979.4 1433.5 967.8 C1426.2 956.2 1409.9 930.8 1400.8 918.8 C1391.7 906.8 1384.2 901.6 1379 896 C1373.8 890.4 1374.7 889.2 1369.5 885.1 C1364.3 881 1358.1 877.6 1347.7 871.5 C1337.3 865.4 1322.8 857.5 1306.9 848.4 C1291 839.3 1269.2 826.9 1252.4 817.1 C1235.6 807.4 1218 796.9 1206.2 789.9 C1194.4 782.9 1187.8 779.4 1181.7 774.9 C1175.6 770.4 1172.5 767 1169.5 762.7 C1166.5 758.4 1165.1 753.6 1164 749 C1162.9 744.4 1162.9 737.3 1162.7 735 Z" fill="#43abc1" stroke="#136f86" stroke-width="1"/>
<g stroke-linejoin="round">
<path d="M981.3 632.7 L1301.2 816.8 L1412.8 750.7 L1412.8 748.5 L1301.2 814.4 L981.3 630.5 Z" fill="#e4f8fc" stroke="#1f879f" stroke-width="1"/>
<path d="M981.3 630.5 L1079 571 Q1108 553.5 1136.4 567.8 L1429.8 737.9 L1412.8 748.5 L1301.2 814.4 Z" fill="#b4e9f4" stroke="#1f879f" stroke-width="1.1"/>
</g>
<g stroke-linejoin="round">
<polygon points="707,495 709.4,495 709.4,516 707,516" fill="#e2f8fc" stroke="#1f879f" stroke-width="1"/>
<ellipse cx="708.2" cy="495" rx="1.2" ry="0.8" fill="#e2f8fc" stroke="#1f879f" stroke-width="0.8"/>
<polygon points="703.4,513.5 707,515.6 707,779.6 703.4,777.5" fill="#e2f8fc" stroke="#1f879f" stroke-width="1"/>
<polygon points="707,515.6 713,512.1 713,776.1 707,779.6" fill="#bdeef8" stroke="#1f879f" stroke-width="1"/>
<polygon points="703.4,513.5 709.4,510 713,512.1 707,515.6" fill="#e2f8fc" stroke="#1f879f" stroke-width="1"/>
<polygon points="659.7,587.7 705.4,561.3 705.4,728.8 659.7,755.2" fill="#b4e9f4" stroke="#1f879f" stroke-width="1"/>
<polygon points="659.7,559.1 704.4,533.3 704.4,535.5 659.7,561.3" fill="#e2f8fc" stroke="#1f879f" stroke-width="1"/>
<polygon points="659.7,561.3 704.4,535.5 704.4,539.7 659.7,565.5" fill="#bdeef8" stroke="#1f879f" stroke-width="1"/>
<polygon points="659.7,768.8 704.4,743 704.4,745.2 659.7,771" fill="#e2f8fc" stroke="#1f879f" stroke-width="1"/>
<polygon points="659.7,771 704.4,745.2 704.4,749.4 659.7,775.2" fill="#bdeef8" stroke="#1f879f" stroke-width="1"/>
<polygon points="659.7,787.9 704.4,762.1 704.4,764.3 659.7,790.1" fill="#e2f8fc" stroke="#1f879f" stroke-width="1"/>
<polygon points="659.7,790.1 704.4,764.3 704.4,768.5 659.7,794.3" fill="#bdeef8" stroke="#1f879f" stroke-width="1"/>
<polygon points="653.7,525.8 656.1,525.8 656.1,546.8 653.7,546.8" fill="#e2f8fc" stroke="#1f879f" stroke-width="1"/>
<ellipse cx="654.9" cy="525.8" rx="1.2" ry="0.8" fill="#e2f8fc" stroke="#1f879f" stroke-width="0.8"/>
<polygon points="650.1,544.3 653.7,546.4 653.7,810.4 650.1,808.3" fill="#e2f8fc" stroke="#1f879f" stroke-width="1"/>
<polygon points="653.7,546.4 659.7,542.9 659.7,806.9 653.7,810.4" fill="#bdeef8" stroke="#1f879f" stroke-width="1"/>
<polygon points="650.1,544.3 656.1,540.8 659.7,542.9 653.7,546.4" fill="#e2f8fc" stroke="#1f879f" stroke-width="1"/>
<ellipse cx="704.9" cy="582.4" rx="1.7" ry="2.6" transform="rotate(35 704.9 582.4)" fill="#b4e9f4" stroke="#1f879f" stroke-width="1"/>
<ellipse cx="704.9" cy="708.2" rx="1.7" ry="2.6" transform="rotate(35 704.9 708.2)" fill="#b4e9f4" stroke="#1f879f" stroke-width="1"/>
<ellipse cx="659.2" cy="608.3" rx="1.7" ry="2.6" transform="rotate(35 659.2 608.3)" fill="#b4e9f4" stroke="#1f879f" stroke-width="1"/>
<ellipse cx="659.2" cy="733.6" rx="1.7" ry="2.6" transform="rotate(35 659.2 733.6)" fill="#b4e9f4" stroke="#1f879f" stroke-width="1"/>
<polygon points="850.5,578.9 852.9,578.9 852.9,599.9 850.5,599.9" fill="#e2f8fc" stroke="#1f879f" stroke-width="1"/>
<ellipse cx="851.7" cy="578.9" rx="1.2" ry="0.8" fill="#e2f8fc" stroke="#1f879f" stroke-width="0.8"/>
<polygon points="846.9,597.4 850.5,599.5 850.5,863.5 846.9,861.4" fill="#e2f8fc" stroke="#1f879f" stroke-width="1"/>
<polygon points="850.5,599.5 856.5,596 856.5,860 850.5,863.5" fill="#bdeef8" stroke="#1f879f" stroke-width="1"/>
<polygon points="846.9,597.4 852.9,593.9 856.5,596 850.5,599.5" fill="#e2f8fc" stroke="#1f879f" stroke-width="1"/>
<polygon points="803.2,671.6 848.9,645.2 848.9,812.7 803.2,839.1" fill="#b4e9f4" stroke="#1f879f" stroke-width="1"/>
<polygon points="803.2,643 847.9,617.2 847.9,619.4 803.2,645.2" fill="#e2f8fc" stroke="#1f879f" stroke-width="1"/>
<polygon points="803.2,645.2 847.9,619.4 847.9,623.6 803.2,649.4" fill="#bdeef8" stroke="#1f879f" stroke-width="1"/>
<polygon points="803.2,852.7 847.9,826.9 847.9,829.1 803.2,854.9" fill="#e2f8fc" stroke="#1f879f" stroke-width="1"/>
<polygon points="803.2,854.9 847.9,829.1 847.9,833.3 803.2,859.1" fill="#bdeef8" stroke="#1f879f" stroke-width="1"/>
<polygon points="803.2,871.8 847.9,846 847.9,848.2 803.2,874" fill="#e2f8fc" stroke="#1f879f" stroke-width="1"/>
<polygon points="803.2,874 847.9,848.2 847.9,852.4 803.2,878.2" fill="#bdeef8" stroke="#1f879f" stroke-width="1"/>
<polygon points="797.2,609.7 799.6,609.7 799.6,630.7 797.2,630.7" fill="#e2f8fc" stroke="#1f879f" stroke-width="1"/>
<ellipse cx="798.4" cy="609.7" rx="1.2" ry="0.8" fill="#e2f8fc" stroke="#1f879f" stroke-width="0.8"/>
<polygon points="793.6,628.2 797.2,630.3 797.2,894.3 793.6,892.2" fill="#e2f8fc" stroke="#1f879f" stroke-width="1"/>
<polygon points="797.2,630.3 803.2,626.8 803.2,890.8 797.2,894.3" fill="#bdeef8" stroke="#1f879f" stroke-width="1"/>
<polygon points="793.6,628.2 799.6,624.7 803.2,626.8 797.2,630.3" fill="#e2f8fc" stroke="#1f879f" stroke-width="1"/>
<ellipse cx="848.4" cy="666.3" rx="1.7" ry="2.6" transform="rotate(35 848.4 666.3)" fill="#b4e9f4" stroke="#1f879f" stroke-width="1"/>
<ellipse cx="848.4" cy="792.1" rx="1.7" ry="2.6" transform="rotate(35 848.4 792.1)" fill="#b4e9f4" stroke="#1f879f" stroke-width="1"/>
<ellipse cx="802.7" cy="692.2" rx="1.7" ry="2.6" transform="rotate(35 802.7 692.2)" fill="#b4e9f4" stroke="#1f879f" stroke-width="1"/>
<ellipse cx="802.7" cy="817.5" rx="1.7" ry="2.6" transform="rotate(35 802.7 817.5)" fill="#b4e9f4" stroke="#1f879f" stroke-width="1"/>
<polygon points="993.5,661.2 995.9,661.2 995.9,682.2 993.5,682.2" fill="#e2f8fc" stroke="#1f879f" stroke-width="1"/>
<ellipse cx="994.7" cy="661.2" rx="1.2" ry="0.8" fill="#e2f8fc" stroke="#1f879f" stroke-width="0.8"/>
<polygon points="989.9,679.7 993.5,681.8 993.5,945.8 989.9,943.7" fill="#e2f8fc" stroke="#1f879f" stroke-width="1"/>
<polygon points="993.5,681.8 999.5,678.3 999.5,942.3 993.5,945.8" fill="#bdeef8" stroke="#1f879f" stroke-width="1"/>
<polygon points="989.9,679.7 995.9,676.2 999.5,678.3 993.5,681.8" fill="#e2f8fc" stroke="#1f879f" stroke-width="1"/>
<polygon points="946.2,753.9 991.9,727.5 991.9,895 946.2,921.4" fill="#b4e9f4" stroke="#1f879f" stroke-width="1"/>
<polygon points="946.2,725.3 990.9,699.5 990.9,701.7 946.2,727.5" fill="#e2f8fc" stroke="#1f879f" stroke-width="1"/>
<polygon points="946.2,727.5 990.9,701.7 990.9,705.9 946.2,731.7" fill="#bdeef8" stroke="#1f879f" stroke-width="1"/>
<polygon points="946.2,935 990.9,909.2 990.9,911.4 946.2,937.2" fill="#e2f8fc" stroke="#1f879f" stroke-width="1"/>
<polygon points="946.2,937.2 990.9,911.4 990.9,915.6 946.2,941.4" fill="#bdeef8" stroke="#1f879f" stroke-width="1"/>
<polygon points="946.2,954.1 990.9,928.3 990.9,930.5 946.2,956.3" fill="#e2f8fc" stroke="#1f879f" stroke-width="1"/>
<polygon points="946.2,956.3 990.9,930.5 990.9,934.7 946.2,960.5" fill="#bdeef8" stroke="#1f879f" stroke-width="1"/>
<polygon points="940.2,692 942.6,692 942.6,713 940.2,713" fill="#e2f8fc" stroke="#1f879f" stroke-width="1"/>
<ellipse cx="941.4" cy="692" rx="1.2" ry="0.8" fill="#e2f8fc" stroke="#1f879f" stroke-width="0.8"/>
<polygon points="936.6,710.5 940.2,712.6 940.2,976.6 936.6,974.5" fill="#e2f8fc" stroke="#1f879f" stroke-width="1"/>
<polygon points="940.2,712.6 946.2,709.1 946.2,973.1 940.2,976.6" fill="#bdeef8" stroke="#1f879f" stroke-width="1"/>
<polygon points="936.6,710.5 942.6,707 946.2,709.1 940.2,712.6" fill="#e2f8fc" stroke="#1f879f" stroke-width="1"/>
<ellipse cx="991.4" cy="748.6" rx="1.7" ry="2.6" transform="rotate(35 991.4 748.6)" fill="#b4e9f4" stroke="#1f879f" stroke-width="1"/>
<ellipse cx="991.4" cy="874.4" rx="1.7" ry="2.6" transform="rotate(35 991.4 874.4)" fill="#b4e9f4" stroke="#1f879f" stroke-width="1"/>
<ellipse cx="945.7" cy="774.5" rx="1.7" ry="2.6" transform="rotate(35 945.7 774.5)" fill="#b4e9f4" stroke="#1f879f" stroke-width="1"/>
<ellipse cx="945.7" cy="899.8" rx="1.7" ry="2.6" transform="rotate(35 945.7 899.8)" fill="#b4e9f4" stroke="#1f879f" stroke-width="1"/>
<polygon points="1136.6,743.5 1139,743.5 1139,764.5 1136.6,764.5" fill="#e2f8fc" stroke="#1f879f" stroke-width="1"/>
<ellipse cx="1137.8" cy="743.5" rx="1.2" ry="0.8" fill="#e2f8fc" stroke="#1f879f" stroke-width="0.8"/>
<polygon points="1133,762 1136.6,764.1 1136.6,1028.1 1133,1026" fill="#e2f8fc" stroke="#1f879f" stroke-width="1"/>
<polygon points="1136.6,764.1 1142.6,760.6 1142.6,1024.6 1136.6,1028.1" fill="#bdeef8" stroke="#1f879f" stroke-width="1"/>
<polygon points="1133,762 1139,758.5 1142.6,760.6 1136.6,764.1" fill="#e2f8fc" stroke="#1f879f" stroke-width="1"/>
<polygon points="1089.3,836.2 1135,809.8 1135,977.3 1089.3,1003.7" fill="#b4e9f4" stroke="#1f879f" stroke-width="1"/>
<polygon points="1089.3,807.6 1134,781.8 1134,784 1089.3,809.8" fill="#e2f8fc" stroke="#1f879f" stroke-width="1"/>
<polygon points="1089.3,809.8 1134,784 1134,788.2 1089.3,814" fill="#bdeef8" stroke="#1f879f" stroke-width="1"/>
<polygon points="1089.3,1017.3 1134,991.5 1134,993.7 1089.3,1019.5" fill="#e2f8fc" stroke="#1f879f" stroke-width="1"/>
<polygon points="1089.3,1019.5 1134,993.7 1134,997.9 1089.3,1023.7" fill="#bdeef8" stroke="#1f879f" stroke-width="1"/>
<polygon points="1089.3,1036.4 1134,1010.6 1134,1012.8 1089.3,1038.6" fill="#e2f8fc" stroke="#1f879f" stroke-width="1"/>
<polygon points="1089.3,1038.6 1134,1012.8 1134,1017 1089.3,1042.8" fill="#bdeef8" stroke="#1f879f" stroke-width="1"/>
<polygon points="1083.3,774.3 1085.7,774.3 1085.7,795.3 1083.3,795.3" fill="#e2f8fc" stroke="#1f879f" stroke-width="1"/>
<ellipse cx="1084.5" cy="774.3" rx="1.2" ry="0.8" fill="#e2f8fc" stroke="#1f879f" stroke-width="0.8"/>
<polygon points="1079.7,792.8 1083.3,794.9 1083.3,1058.9 1079.7,1056.8" fill="#e2f8fc" stroke="#1f879f" stroke-width="1"/>
<polygon points="1083.3,794.9 1089.3,791.4 1089.3,1055.4 1083.3,1058.9" fill="#bdeef8" stroke="#1f879f" stroke-width="1"/>
<polygon points="1079.7,792.8 1085.7,789.3 1089.3,791.4 1083.3,794.9" fill="#e2f8fc" stroke="#1f879f" stroke-width="1"/>
<ellipse cx="1134.5" cy="830.9" rx="1.7" ry="2.6" transform="rotate(35 1134.5 830.9)" fill="#b4e9f4" stroke="#1f879f" stroke-width="1"/>
<ellipse cx="1134.5" cy="956.7" rx="1.7" ry="2.6" transform="rotate(35 1134.5 956.7)" fill="#b4e9f4" stroke="#1f879f" stroke-width="1"/>
<ellipse cx="1088.8" cy="856.8" rx="1.7" ry="2.6" transform="rotate(35 1088.8 856.8)" fill="#b4e9f4" stroke="#1f879f" stroke-width="1"/>
<ellipse cx="1088.8" cy="982.1" rx="1.7" ry="2.6" transform="rotate(35 1088.8 982.1)" fill="#b4e9f4" stroke="#1f879f" stroke-width="1"/>
<polygon points="1280.9,825.6 1283.3,825.6 1283.3,846.6 1280.9,846.6" fill="#e2f8fc" stroke="#1f879f" stroke-width="1"/>
<ellipse cx="1282.1" cy="825.6" rx="1.2" ry="0.8" fill="#e2f8fc" stroke="#1f879f" stroke-width="0.8"/>
<polygon points="1277.3,844.1 1280.9,846.2 1280.9,1110.2 1277.3,1108.1" fill="#e2f8fc" stroke="#1f879f" stroke-width="1"/>
<polygon points="1280.9,846.2 1286.9,842.7 1286.9,1106.7 1280.9,1110.2" fill="#bdeef8" stroke="#1f879f" stroke-width="1"/>
<polygon points="1277.3,844.1 1283.3,840.6 1286.9,842.7 1280.9,846.2" fill="#e2f8fc" stroke="#1f879f" stroke-width="1"/>
<polygon points="1233.6,918.3 1279.3,891.9 1279.3,1059.4 1233.6,1085.8" fill="#b4e9f4" stroke="#1f879f" stroke-width="1"/>
<polygon points="1233.6,889.7 1278.3,863.9 1278.3,866.1 1233.6,891.9" fill="#e2f8fc" stroke="#1f879f" stroke-width="1"/>
<polygon points="1233.6,891.9 1278.3,866.1 1278.3,870.3 1233.6,896.1" fill="#bdeef8" stroke="#1f879f" stroke-width="1"/>
<polygon points="1233.6,1099.4 1278.3,1073.6 1278.3,1075.8 1233.6,1101.6" fill="#e2f8fc" stroke="#1f879f" stroke-width="1"/>
<polygon points="1233.6,1101.6 1278.3,1075.8 1278.3,1080 1233.6,1105.8" fill="#bdeef8" stroke="#1f879f" stroke-width="1"/>
<polygon points="1233.6,1118.5 1278.3,1092.7 1278.3,1094.9 1233.6,1120.7" fill="#e2f8fc" stroke="#1f879f" stroke-width="1"/>
<polygon points="1233.6,1120.7 1278.3,1094.9 1278.3,1099.1 1233.6,1124.9" fill="#bdeef8" stroke="#1f879f" stroke-width="1"/>
<polygon points="1227.6,856.4 1230,856.4 1230,877.4 1227.6,877.4" fill="#e2f8fc" stroke="#1f879f" stroke-width="1"/>
<ellipse cx="1228.8" cy="856.4" rx="1.2" ry="0.8" fill="#e2f8fc" stroke="#1f879f" stroke-width="0.8"/>
<polygon points="1224,874.9 1227.6,877 1227.6,1141 1224,1138.9" fill="#e2f8fc" stroke="#1f879f" stroke-width="1"/>
<polygon points="1227.6,877 1233.6,873.5 1233.6,1137.5 1227.6,1141" fill="#bdeef8" stroke="#1f879f" stroke-width="1"/>
<polygon points="1224,874.9 1230,871.4 1233.6,873.5 1227.6,877" fill="#e2f8fc" stroke="#1f879f" stroke-width="1"/>
<ellipse cx="1278.8" cy="913" rx="1.7" ry="2.6" transform="rotate(35 1278.8 913)" fill="#b4e9f4" stroke="#1f879f" stroke-width="1"/>
<ellipse cx="1278.8" cy="1038.8" rx="1.7" ry="2.6" transform="rotate(35 1278.8 1038.8)" fill="#b4e9f4" stroke="#1f879f" stroke-width="1"/>
<ellipse cx="1233.1" cy="938.9" rx="1.7" ry="2.6" transform="rotate(35 1233.1 938.9)" fill="#b4e9f4" stroke="#1f879f" stroke-width="1"/>
<ellipse cx="1233.1" cy="1064.2" rx="1.7" ry="2.6" transform="rotate(35 1233.1 1064.2)" fill="#b4e9f4" stroke="#1f879f" stroke-width="1"/>
<polygon points="685.5,776.8 734.4,748.6 779.1,774.4 730.2,802.6" fill="#d3e9ee" stroke="#1f879f" stroke-width="1"/>
<polygon points="685.5,776.8 730.2,802.6 730.2,849 685.5,823.2" fill="#d3e9ee" stroke="#1f879f" stroke-width="1"/>
<polygon points="730.2,802.6 779.1,774.4 779.1,820.8 730.2,849" fill="#d3e9ee" stroke="#1f879f" stroke-width="1"/>
<polygon points="830.2,858.6 879.1,830.4 923.8,856.2 874.9,884.4" fill="#d3e9ee" stroke="#1f879f" stroke-width="1"/>
<polygon points="830.2,858.6 874.9,884.4 874.9,930.7 830.2,904.9" fill="#d3e9ee" stroke="#1f879f" stroke-width="1"/>
<polygon points="874.9,884.4 923.8,856.2 923.8,902.5 874.9,930.7" fill="#d3e9ee" stroke="#1f879f" stroke-width="1"/>
<polygon points="972.2,944.5 1023.9,914.7 1068.3,940.3 1016.6,970.1" fill="#d3e9ee" stroke="#1f879f" stroke-width="1"/>
<polygon points="972.2,944.5 1016.6,970.1 1016.6,1015.1 972.2,989.5" fill="#d3e9ee" stroke="#1f879f" stroke-width="1"/>
<polygon points="1016.6,970.1 1068.3,940.3 1068.3,985.3 1016.6,1015.1" fill="#d3e9ee" stroke="#1f879f" stroke-width="1"/>
<polygon points="1114.5,1024 1164.5,995.1 1209.2,1020.9 1159.2,1049.8" fill="#d3e9ee" stroke="#1f879f" stroke-width="1"/>
<polygon points="1114.5,1024 1159.2,1049.8 1159.2,1094.8 1114.5,1069" fill="#d3e9ee" stroke="#1f879f" stroke-width="1"/>
<polygon points="1159.2,1049.8 1209.2,1020.9 1209.2,1065.9 1159.2,1094.8" fill="#d3e9ee" stroke="#1f879f" stroke-width="1"/>
<polygon points="1256.7,1105.2 1307.7,1075.8 1352.7,1101.7 1301.7,1131.2" fill="#d3e9ee" stroke="#1f879f" stroke-width="1"/>
<polygon points="1256.7,1105.2 1301.7,1131.2 1301.7,1178 1256.7,1152" fill="#d3e9ee" stroke="#1f879f" stroke-width="1"/>
<polygon points="1301.7,1131.2 1352.7,1101.7 1352.7,1148.5 1301.7,1178" fill="#d3e9ee" stroke="#1f879f" stroke-width="1"/>
</g>
<g stroke-linejoin="round">
<polygon points="576,781.9 1317.7,1210.1 1225.7,1263.2 484,835" fill="#ececec" stroke="#454545" stroke-width="1"/>
<polygon points="523.7,616.9 559.7,596.2 559.7,837.2 523.7,857.9" fill="#efefef" stroke="#454545" stroke-width="1"/>
<polygon points="837.2,797.9 873.2,777.2 873.2,1018.2 837.2,1038.9" fill="#efefef" stroke="#454545" stroke-width="1"/>
<polygon points="1148.9,977.9 1184.9,957.1 1184.9,1198.1 1148.9,1218.9" fill="#efefef" stroke="#454545" stroke-width="1"/>
<polygon points="771.4,759.4 837.7,797.6 872.9,777.3 872.9,1018.3 837.7,1038.6 771.4,1000.4" fill="#ececec" stroke="none"/>
<polyline points="837.7,797.6 837.7,1038.6" stroke="#454545" stroke-width="1" fill="none"/>
<polyline points="872.9,777.3 872.9,1018.3" stroke="#454545" stroke-width="1" fill="none"/>
<polyline points="872.9,1018.3 837.7,1038.6" stroke="#454545" stroke-width="1" fill="none"/>
<polygon points="1082.7,939.1 1149.4,977.6 1184.6,957.3 1184.6,1198.3 1149.4,1218.6 1082.7,1180.1" fill="#ececec" stroke="none"/>
<polyline points="1149.4,977.6 1149.4,1218.6" stroke="#454545" stroke-width="1" fill="none"/>
<polyline points="1184.6,957.3 1184.6,1198.3" stroke="#454545" stroke-width="1" fill="none"/>
<polyline points="1184.6,1198.3 1149.4,1218.6" stroke="#454545" stroke-width="1" fill="none"/>
<polygon points="456.7,578.3 523.7,616.9 523.7,857.9 456.7,819.3" fill="#ececec" stroke="#454545" stroke-width="1"/>
<polygon points="770.9,759.7 837.2,797.9 837.2,1038.9 770.9,1000.7" fill="#ececec" stroke="#454545" stroke-width="1"/>
<polygon points="1082.2,939.4 1148.9,977.9 1148.9,1218.9 1082.2,1180.4" fill="#ececec" stroke="#454545" stroke-width="1"/>
<polygon points="456.7,819.3 1246.7,1275.4 1246.7,1330.9 456.7,874.8" fill="#ececec" stroke="#454545" stroke-width="1"/>
<polygon points="524.8,869.6 771.3,1011.9 771.3,1043.4 524.8,901.1" fill="#e4e4e4" stroke="#454545" stroke-width="1"/>
<polyline points="534.7,875.3 534.7,906.8" stroke="#454545" stroke-width="0.9" fill="none"/>
<polyline points="544.6,881 544.6,912.5" stroke="#454545" stroke-width="0.9" fill="none"/>
<polyline points="554.5,886.7 554.5,918.2" stroke="#454545" stroke-width="0.9" fill="none"/>
<polyline points="564.4,892.4 564.4,923.9" stroke="#454545" stroke-width="0.9" fill="none"/>
<polyline points="574.3,898.2 574.3,929.7" stroke="#454545" stroke-width="0.9" fill="none"/>
<polyline points="584.2,903.9 584.2,935.4" stroke="#454545" stroke-width="0.9" fill="none"/>
<polyline points="594.1,909.6 594.1,941.1" stroke="#454545" stroke-width="0.9" fill="none"/>
<polyline points="604,915.3 604,946.8" stroke="#454545" stroke-width="0.9" fill="none"/>
<polyline points="613.9,921 613.9,952.5" stroke="#454545" stroke-width="0.9" fill="none"/>
<polyline points="623.8,926.7 623.8,958.2" stroke="#454545" stroke-width="0.9" fill="none"/>
<polyline points="633.7,932.4 633.7,963.9" stroke="#454545" stroke-width="0.9" fill="none"/>
<polyline points="643.6,938.2 643.6,969.7" stroke="#454545" stroke-width="0.9" fill="none"/>
<polyline points="653.5,943.9 653.5,975.4" stroke="#454545" stroke-width="0.9" fill="none"/>
<polyline points="663.4,949.6 663.4,981.1" stroke="#454545" stroke-width="0.9" fill="none"/>
<polyline points="673.3,955.3 673.3,986.8" stroke="#454545" stroke-width="0.9" fill="none"/>
<polyline points="683.2,961 683.2,992.5" stroke="#454545" stroke-width="0.9" fill="none"/>
<polyline points="693.1,966.7 693.1,998.2" stroke="#454545" stroke-width="0.9" fill="none"/>
<polyline points="703,972.5 703,1004" stroke="#454545" stroke-width="0.9" fill="none"/>
<polyline points="712.9,978.2 712.9,1009.7" stroke="#454545" stroke-width="0.9" fill="none"/>
<polyline points="722.8,983.9 722.8,1015.4" stroke="#454545" stroke-width="0.9" fill="none"/>
<polyline points="732.7,989.6 732.7,1021.1" stroke="#454545" stroke-width="0.9" fill="none"/>
<polyline points="742.6,995.3 742.6,1026.8" stroke="#454545" stroke-width="0.9" fill="none"/>
<polyline points="752.5,1001 752.5,1032.5" stroke="#454545" stroke-width="0.9" fill="none"/>
<polyline points="762.4,1006.8 762.4,1038.3" stroke="#454545" stroke-width="0.9" fill="none"/>
<polygon points="837.2,1049.9 1082.2,1191.4 1082.2,1222.9 837.2,1081.4" fill="#e4e4e4" stroke="#454545" stroke-width="1"/>
<polyline points="847.1,1055.7 847.1,1087.2" stroke="#454545" stroke-width="0.9" fill="none"/>
<polyline points="857,1061.4 857,1092.9" stroke="#454545" stroke-width="0.9" fill="none"/>
<polyline points="866.9,1067.1 866.9,1098.6" stroke="#454545" stroke-width="0.9" fill="none"/>
<polyline points="876.8,1072.8 876.8,1104.3" stroke="#454545" stroke-width="0.9" fill="none"/>
<polyline points="886.7,1078.5 886.7,1110" stroke="#454545" stroke-width="0.9" fill="none"/>
<polyline points="896.6,1084.2 896.6,1115.7" stroke="#454545" stroke-width="0.9" fill="none"/>
<polyline points="906.5,1089.9 906.5,1121.4" stroke="#454545" stroke-width="0.9" fill="none"/>
<polyline points="916.4,1095.7 916.4,1127.2" stroke="#454545" stroke-width="0.9" fill="none"/>
<polyline points="926.3,1101.4 926.3,1132.9" stroke="#454545" stroke-width="0.9" fill="none"/>
<polyline points="936.2,1107.1 936.2,1138.6" stroke="#454545" stroke-width="0.9" fill="none"/>
<polyline points="946.1,1112.8 946.1,1144.3" stroke="#454545" stroke-width="0.9" fill="none"/>
<polyline points="956,1118.5 956,1150" stroke="#454545" stroke-width="0.9" fill="none"/>
<polyline points="965.9,1124.2 965.9,1155.7" stroke="#454545" stroke-width="0.9" fill="none"/>
<polyline points="975.8,1130 975.8,1161.5" stroke="#454545" stroke-width="0.9" fill="none"/>
<polyline points="985.7,1135.7 985.7,1167.2" stroke="#454545" stroke-width="0.9" fill="none"/>
<polyline points="995.6,1141.4 995.6,1172.9" stroke="#454545" stroke-width="0.9" fill="none"/>
<polyline points="1005.5,1147.1 1005.5,1178.6" stroke="#454545" stroke-width="0.9" fill="none"/>
<polyline points="1015.4,1152.8 1015.4,1184.3" stroke="#454545" stroke-width="0.9" fill="none"/>
<polyline points="1025.3,1158.5 1025.3,1190" stroke="#454545" stroke-width="0.9" fill="none"/>
<polyline points="1035.2,1164.3 1035.2,1195.8" stroke="#454545" stroke-width="0.9" fill="none"/>
<polyline points="1045.1,1170 1045.1,1201.5" stroke="#454545" stroke-width="0.9" fill="none"/>
<polyline points="1055,1175.7 1055,1207.2" stroke="#454545" stroke-width="0.9" fill="none"/>
<polyline points="1064.9,1181.4 1064.9,1212.9" stroke="#454545" stroke-width="0.9" fill="none"/>
<polyline points="1074.8,1187.1 1074.8,1218.6" stroke="#454545" stroke-width="0.9" fill="none"/>
<polygon points="1148.4,1229.6 1217.9,1269.7 1217.9,1301.2 1148.4,1261.1" fill="#e4e4e4" stroke="#454545" stroke-width="1"/>
<polyline points="1158.3,1235.3 1158.3,1266.8" stroke="#454545" stroke-width="0.9" fill="none"/>
<polyline points="1168.2,1241 1168.2,1272.5" stroke="#454545" stroke-width="0.9" fill="none"/>
<polyline points="1178.1,1246.8 1178.1,1278.3" stroke="#454545" stroke-width="0.9" fill="none"/>
<polyline points="1188,1252.5 1188,1284" stroke="#454545" stroke-width="0.9" fill="none"/>
<polyline points="1197.9,1258.2 1197.9,1289.7" stroke="#454545" stroke-width="0.9" fill="none"/>
<polyline points="1207.8,1263.9 1207.8,1295.4" stroke="#454545" stroke-width="0.9" fill="none"/>
<path d="M523.7 616.9 L770.9 759.7 L770.9 1000.7 L523.7 857.9 Z M527.3 625 L767.3 763.6 L767.3 995 L527.3 856.4 Z" fill="#f6f6f6" stroke="#454545" stroke-width="1" fill-rule="evenodd"/>
<polygon points="523.7,616.9 770.9,759.7 774.5,757.6 527.3,614.9" fill="#f6f6f6" stroke="#454545" stroke-width="1"/>
<path d="M837.2 797.9 L1082.2 939.4 L1082.2 1180.4 L837.2 1038.9 Z M840.8 806 L1078.6 943.3 L1078.6 1174.7 L840.8 1037.4 Z" fill="#f6f6f6" stroke="#454545" stroke-width="1" fill-rule="evenodd"/>
<polygon points="837.2,797.9 1082.2,939.4 1085.8,937.3 840.8,795.9" fill="#f6f6f6" stroke="#454545" stroke-width="1"/>
<path d="M1148.9 977.9 L1225.7 1022.2 L1225.7 1263.2 L1148.9 1218.9 Z M1152.5 986 L1222.1 1026.2 L1222.1 1257.6 L1152.5 1217.4 Z" fill="#f6f6f6" stroke="#454545" stroke-width="1" fill-rule="evenodd"/>
<polygon points="1148.9,977.9 1225.7,1022.2 1229.3,1020.2 1152.5,975.8" fill="#f6f6f6" stroke="#454545" stroke-width="1"/>
</g>
<g stroke-linejoin="round">
<polygon points="1229.7,1265.5 1321.7,1212.4 1321.7,1252.9 1229.7,1306" fill="#efefef" stroke="#454545" stroke-width="1"/>
<polygon points="1230.9,1265.1 1261.4,1248 1261.4,1289.7 1230.9,1306" fill="#efefef" stroke="#454545" stroke-width="1"/>
<polygon points="1230.9,1306 1260.1,1289.7 1336.3,1307.4 1386.7,1322.3 1386.7,1395.9" fill="#cccccc" stroke="#454545" stroke-width="1"/>
<polygon points="1230.9,1306 1386.7,1395.9 1386.7,1410 1230.9,1320.2" fill="#efefef" stroke="#454545" stroke-width="1"/>
<polygon points="1441.3,1105.6 1468.7,1089.8 1468.7,1371.3 1441.3,1387.1" fill="#efefef" stroke="#454545" stroke-width="1"/>
<polygon points="1229.1,1019.8 1260.7,1001.9 1264.3,1004.1 1264.3,1007.9 1231.5,1025.8 1229.1,1024.6" fill="#f6f6f6" stroke="#454545" stroke-width="1"/>
<polygon points="1231.5,1025.8 1236.8,1022.8 1236.8,1302 1231.5,1308" fill="#f6f6f6" stroke="#454545" stroke-width="1"/>
<polygon points="1254.7,1012.1 1261.3,1007.9 1261.3,1288 1254.7,1294" fill="#f6f6f6" stroke="#454545" stroke-width="1"/>
<polygon points="1261.3,1007.9 1268.4,1010.3 1268.4,1292 1261.3,1288" fill="#f6f6f6" stroke="#454545" stroke-width="1"/>
<polygon points="1264.3,1004.1 1455.6,1054.4 1453.3,1059.2 1445.5,1061.5 1268.4,1015.6 1261.3,1007.9" fill="#f6f6f6" stroke="#454545" stroke-width="1"/>
<polyline points="1261.3,1007.9 1453.3,1059.2" stroke="#454545" stroke-width="1" fill="none"/>
<polygon points="1268.4,1049.6 1424.6,1090.9 1425.8,1093.1 1406.8,1102.1 1341.2,1084.8 1271.4,1065.1 1261.3,1060.4 1261.3,1054.4" fill="#f6f6f6" stroke="#454545" stroke-width="1"/>
<polyline points="1261.3,1054.4 1423.5,1097.3" stroke="#454545" stroke-width="1" fill="none"/>
<polygon points="1327.5,1080.9 1334.6,1080 1334.6,1307.7 1327.5,1305.4" fill="#f6f6f6" stroke="#454545" stroke-width="1"/>
<polygon points="1336.4,1080.5 1344.2,1085.6 1344.2,1310.7 1336.4,1308.2" fill="#f6f6f6" stroke="#454545" stroke-width="1"/>
<polygon points="1455.6,1054.4 1466.4,1058.9 1466.4,1089 1450.3,1078.8 1426.4,1093.1 1423.5,1091.4 1445.5,1066.3" fill="#f3f3f3" stroke="#454545" stroke-width="1"/>
<polyline points="1466.4,1058.9 1450.9,1078.8" stroke="#454545" stroke-width="1" fill="none"/>
<polyline points="1450.9,1078.8 1450.3,1078.8" stroke="#454545" stroke-width="1" fill="none"/>
<polygon points="1261.4,1289.7 1272.3,1284.2 1326.8,1298.4 1326.8,1303.3 1272.3,1289.7" fill="#f6f6f6" stroke="#454545" stroke-width="1"/>
<polygon points="1343.7,1301.9 1386.7,1315.5 1386.7,1322.3 1343.7,1307.4" fill="#f6f6f6" stroke="#454545" stroke-width="1"/>
<polygon points="1388.2,1115.5 1520.7,1190 1520.7,1486.5 1388.2,1410" fill="#ececec" stroke="#454545" stroke-width="1"/>
<polygon points="1520.7,1190 1989.1,863.3 1989.1,1159.8 1520.7,1486.5" fill="#efefef" stroke="#454545" stroke-width="1"/>
</g>
<path d="M1160.7 171.8 L1453.2 340.7 L1316.4 419.7 L1392.4 463.5 L1231.7 556.3 L1529.2 728.1 L1640.7 663.7 L1989.1 863.3 L1520.7 1190 L1388.2 1115.5 L1451.7 1078.8 L1467.7 1090.4 L1441.7 1105.8 L1526.2 1153.6 L1839.9 939.4 L1505 746.1 L1457.2 773.7 L1414 748.7 L1461.8 721.1 L902.5 398.2 L854.2 426.1 L814.5 403.2 L520 573.2 L559.7 596.2 L523.7 616.9 L456.7 578.3 Z M1160.7 203.3 L1398.9 340.8 L1289.4 404.1 L1159.9 329.3 L1132.5 345.1 L1178.5 371.7 L1159.9 382.4 L1243.4 430.6 L1262 419.9 L1337.9 463.7 L1204.6 540.7 L890.5 359.3 L1023.8 282.4 L1059.5 303 L1086.9 287.2 L1051.2 266.5 Z M1641 695.3 L1943.3 867.4 L1864.4 921.4 L1556.9 743.8 Z" fill="#f0f0f0" stroke="#454545" stroke-width="1" fill-rule="evenodd" stroke-linejoin="round"/>
<polygon points="806.7,739 873,777.3 837.7,797.6 771.4,759.4" fill="#f0f0f0" stroke="#454545" stroke-width="1"/>
<polygon points="1117.7,918.9 1184.4,957.4 1149.9,977.3 1083.2,938.8" fill="#f0f0f0" stroke="#454545" stroke-width="1"/>
<polyline points="1441.7,1105.8 1441.7,1387.3 1526.2,1435.1 1943.3,1148.9 1943.3,867.4" stroke="#444" stroke-width="1" fill="none" stroke-dasharray="6 5"/>
<polyline points="1943.3,1148.9 1917.3,1135.2" stroke="#444" stroke-width="1" fill="none" stroke-dasharray="6 5"/>
<polyline points="1839.9,939.4 1839.9,1220.9 1819.4,1208.5" stroke="#444" stroke-width="1" fill="none" stroke-dasharray="6 5"/>
<polyline points="1864.4,921.4 1864.4,1202.9" stroke="#454545" stroke-width="0.9" fill="none"/>
<polyline points="1819.4,1035 1819.4,1208.5" stroke="#444" stroke-width="1" fill="none" stroke-dasharray="6 5"/>
<polyline points="771.4,894.7 873,953.4" stroke="#444" stroke-width="1" fill="none" stroke-dasharray="6 5"/>
<polyline points="1083,1074.6 1184.4,1133.2" stroke="#444" stroke-width="1" fill="none" stroke-dasharray="6 5"/>
<g stroke-linejoin="round">
<polygon points="1864.5,922 1913.5,916.9 1942.4,933.3 1943.3,1117.9 1864.9,1172.3" fill="#b7e3ed" stroke="none" stroke-width="1" fill-opacity="0.45"/>
<path d="M1846.9 884.8 L1886.9 907.8 C1889 909.3 1896.5 914.2 1899.2 916.9 C1901.9 919.6 1903.3 921.5 1903.3 924.1 C1903.3 926.7 1901.9 929.3 1899.2 932.2 C1896.5 935.1 1888.7 939.6 1886.9 941.4 C1885.1 943.2 1888 942.8 1888.2 943.1 L1864.1 956.9" fill="none" stroke="#1f879f" stroke-width="3.2"/>
<path d="M1846.9 884.8 L1886.9 907.8 C1889 909.3 1896.5 914.2 1899.2 916.9 C1901.9 919.6 1903.3 921.5 1903.3 924.1 C1903.3 926.7 1901.9 929.3 1899.2 932.2 C1896.5 935.1 1888.7 939.6 1886.9 941.4 C1885.1 943.2 1888 942.8 1888.2 943.1 L1864.1 956.9" fill="none" stroke="#d9f3f8" stroke-width="1.3"/>
<polyline points="1888.2,943.1 1911.2,954.6" stroke="#1f879f" stroke-width="1" fill="none"/>
<polygon points="1718.4,1025.1 1819.4,953.9 1819.4,992.5 1791.8,1015.4 1768.9,1022.3 1747.1,1031.5 1727.5,1026.9" fill="#b7e3ed" stroke="none" stroke-width="1" fill-opacity="0.5"/>
<polyline points="1819.4,942 1819.4,992.5" stroke="#1f879f" stroke-width="0.9" fill="none"/>
<polygon points="1910.6,955.8 1943.3,932.7 1943.3,1117.9 1910.6,1141" fill="#b7e3ed" stroke="#1f879f" stroke-width="1" fill-opacity="0.45"/>
<polygon points="1864.9,981.7 1910.6,955.8 1910.6,1141 1864.9,1172.3" fill="#b7e3ed" stroke="#1f879f" stroke-width="1" fill-opacity="0.3"/>
<polyline points="1871.1,979 1871.1,1168.2" stroke="#1f879f" stroke-width="1" fill="none"/>
<polyline points="1871.1,1011.7 1910.6,987.7" stroke="#1f879f" stroke-width="1" fill="none"/>
<polyline points="1871.1,1014.9 1887.5,1005.1" stroke="#1f879f" stroke-width="0.9" fill="none"/>
<polyline points="1887.5,995.3 1910.6,1006.2" stroke="#1f879f" stroke-width="0.9" fill="none"/>
<polyline points="1887.5,995.3 1871.1,1004" stroke="#1f879f" stroke-width="0.9" fill="none"/>
<polyline points="1871.1,1043 1910.6,1019" stroke="#1f879f" stroke-width="1" fill="none"/>
<polyline points="1871.1,1046.2 1887.5,1036.4" stroke="#1f879f" stroke-width="0.9" fill="none"/>
<polyline points="1887.5,1026.6 1910.6,1037.5" stroke="#1f879f" stroke-width="0.9" fill="none"/>
<polyline points="1887.5,1026.6 1871.1,1035.3" stroke="#1f879f" stroke-width="0.9" fill="none"/>
<polyline points="1871.1,1074.3 1910.6,1050.3" stroke="#1f879f" stroke-width="1" fill="none"/>
<polyline points="1871.1,1077.6 1887.5,1067.8" stroke="#1f879f" stroke-width="0.9" fill="none"/>
<polyline points="1887.5,1058 1910.6,1068.8" stroke="#1f879f" stroke-width="0.9" fill="none"/>
<polyline points="1887.5,1058 1871.1,1066.7" stroke="#1f879f" stroke-width="0.9" fill="none"/>
<polyline points="1871.1,1105.6 1910.6,1081.6" stroke="#1f879f" stroke-width="1" fill="none"/>
<polyline points="1871.1,1108.9 1887.5,1099.1" stroke="#1f879f" stroke-width="0.9" fill="none"/>
<polyline points="1887.5,1089.3 1910.6,1100.2" stroke="#1f879f" stroke-width="0.9" fill="none"/>
<polyline points="1887.5,1089.3 1871.1,1098" stroke="#1f879f" stroke-width="0.9" fill="none"/>
<polygon points="1521.9,826.5 1526.7,823.9 1526.7,1006.6 1521.9,1008.6" fill="#b4e9f4" stroke="#1f879f" stroke-width="1"/>
<polygon points="1502.7,837.5 1521.9,826.5 1521.9,1020 1502.7,1022" fill="#b4e9f4" stroke="#1f879f" stroke-width="1"/>
<polyline points="1510.8,832.4 1510.8,1021" stroke="#1f879f" stroke-width="0.8" fill="none"/>
<polygon points="1503.7,836.8 1505.9,835.1 1505.9,1021.5 1503.7,1022" fill="#dff6fb" stroke="#1f879f" stroke-width="1"/>
<polygon points="1491.2,846.1 1502.7,837.5 1502.7,1027.7 1491.2,1029.7" fill="#b4e9f4" stroke="#1f879f" stroke-width="1"/>
<polyline points="1495.5,843 1495.5,1028.7" stroke="#1f879f" stroke-width="0.8" fill="none"/>
<polygon points="1492.2,845.4 1494.4,843.8 1494.4,1029.2 1492.2,1029.7" fill="#dff6fb" stroke="#1f879f" stroke-width="1"/>
<polygon points="1480.7,855.6 1491.2,846.1 1491.2,1041 1480.7,1043" fill="#b4e9f4" stroke="#1f879f" stroke-width="1"/>
<polyline points="1484.5,851.9 1484.5,1042" stroke="#1f879f" stroke-width="0.8" fill="none"/>
<polygon points="1481.7,854.6 1483.9,852.4 1483.9,1042.5 1481.7,1043" fill="#dff6fb" stroke="#1f879f" stroke-width="1"/>
<polygon points="1476.9,859.3 1480.7,855.6 1480.7,1052.5 1476.9,1054.5" fill="#b4e9f4" stroke="#1f879f" stroke-width="1"/>
<polygon points="1463.5,875.3 1476.9,859.3 1476.9,1069.8 1463.5,1071.8" fill="#b4e9f4" stroke="#1f879f" stroke-width="1"/>
<polyline points="1468.7,868.5 1468.7,1070.8" stroke="#1f879f" stroke-width="0.8" fill="none"/>
<polygon points="1464.5,874 1466.7,871.1 1466.7,1071.3 1464.5,1071.8" fill="#dff6fb" stroke="#1f879f" stroke-width="1"/>
<polygon points="1454.9,884 1463.5,875.3 1463.5,1054.5 1454.9,1056.5" fill="#b4e9f4" stroke="#1f879f" stroke-width="1"/>
<polyline points="1457.7,881.2 1457.7,1055.5" stroke="#1f879f" stroke-width="0.8" fill="none"/>
<polygon points="1455.9,883 1458.1,880.8 1458.1,1056 1455.9,1056.5" fill="#dff6fb" stroke="#1f879f" stroke-width="1"/>
<polygon points="1526.7,823.5 1533.4,820 1533.4,1010 1526.7,1013" fill="#d3eef4" stroke="#1f879f" stroke-width="1"/>
<path d="M1660 1007 C1652.2 1004.4 1625.2 994.8 1613.5 991.4 C1601.8 988 1599.8 989 1590 986.6 C1580.2 984.2 1565.8 980.5 1554.4 977 C1543.1 973.5 1531.5 969.6 1521.9 965.6 C1512.3 961.6 1504 957.4 1497 953.1 C1490 948.8 1484.6 944.8 1479.8 939.7 C1475 934.6 1471.2 928.6 1468.3 922.5 C1465.4 916.4 1463.2 909.7 1462.5 903.3 C1461.8 896.9 1462.8 890.2 1464.4 884.2 C1466 878.2 1468.3 872.4 1472.1 867 C1475.9 861.6 1481.7 856.8 1487.4 851.7 C1493.2 846.6 1500 840.9 1506.6 836.4 C1513.1 831.9 1523.3 826.8 1526.7 824.9 L1573.2 801.1" fill="none" stroke="#1f879f" stroke-width="3.4"/>
<path d="M1660 1007 C1652.2 1004.4 1625.2 994.8 1613.5 991.4 C1601.8 988 1599.8 989 1590 986.6 C1580.2 984.2 1565.8 980.5 1554.4 977 C1543.1 973.5 1531.5 969.6 1521.9 965.6 C1512.3 961.6 1504 957.4 1497 953.1 C1490 948.8 1484.6 944.8 1479.8 939.7 C1475 934.6 1471.2 928.6 1468.3 922.5 C1465.4 916.4 1463.2 909.7 1462.5 903.3 C1461.8 896.9 1462.8 890.2 1464.4 884.2 C1466 878.2 1468.3 872.4 1472.1 867 C1475.9 861.6 1481.7 856.8 1487.4 851.7 C1493.2 846.6 1500 840.9 1506.6 836.4 C1513.1 831.9 1523.3 826.8 1526.7 824.9 L1573.2 801.1" fill="none" stroke="#d9f3f8" stroke-width="1.4"/>
<path d="M1746.4 1033.4 C1748.2 1033.1 1753.7 1032.4 1757 1031.5 C1760.3 1030.6 1762.2 1030 1766.3 1028 C1770.3 1026 1775.2 1023.3 1781.3 1019.8 C1787.4 1016.3 1795.8 1011.3 1803 1007 C1810.2 1002.7 1821.2 996.2 1824.8 994 L1824.8 1180 C1821.2 1182.2 1810.2 1188.7 1803 1193 C1795.8 1197.3 1787.4 1202.3 1781.3 1205.8 C1775.2 1209.3 1770.3 1212 1766.3 1214 C1762.2 1216 1760.3 1216.6 1757 1217.5 C1753.7 1218.4 1748.2 1219.1 1746.4 1219.4 Z" fill="#ade2ee" stroke="#1f879f" stroke-width="1" fill-opacity="0.92"/>
<polyline points="1752,1032.4 1752,1218.4" stroke="#1f879f" stroke-width="1" fill="none"/>
<polyline points="1754.2,1031.4 1754.2,1217.4" stroke="#5bb3c7" stroke-width="0.6" fill="none"/>
<polyline points="1761,1030 1761,1216" stroke="#1f879f" stroke-width="1" fill="none"/>
<polyline points="1763.2,1029 1763.2,1215" stroke="#5bb3c7" stroke-width="0.6" fill="none"/>
<polyline points="1770,1026 1770,1212" stroke="#1f879f" stroke-width="1" fill="none"/>
<polyline points="1772.2,1025 1772.2,1211" stroke="#5bb3c7" stroke-width="0.6" fill="none"/>
<polyline points="1780,1020.5 1780,1206.5" stroke="#1f879f" stroke-width="1" fill="none"/>
<polyline points="1782.2,1019.5 1782.2,1205.5" stroke="#5bb3c7" stroke-width="0.6" fill="none"/>
<polyline points="1789,1015.3 1789,1201.3" stroke="#1f879f" stroke-width="1" fill="none"/>
<polyline points="1791.2,1014.3 1791.2,1200.3" stroke="#5bb3c7" stroke-width="0.6" fill="none"/>
<polyline points="1798,1009.9 1798,1195.9" stroke="#1f879f" stroke-width="1" fill="none"/>
<polyline points="1800.2,1008.9 1800.2,1194.9" stroke="#5bb3c7" stroke-width="0.6" fill="none"/>
<polyline points="1807,1004.6 1807,1190.6" stroke="#1f879f" stroke-width="1" fill="none"/>
<polyline points="1809.2,1003.6 1809.2,1189.6" stroke="#5bb3c7" stroke-width="0.6" fill="none"/>
<polyline points="1815,999.8 1815,1185.8" stroke="#1f879f" stroke-width="1" fill="none"/>
<polyline points="1817.2,998.8 1817.2,1184.8" stroke="#5bb3c7" stroke-width="0.6" fill="none"/>
<polyline points="1821,996.3 1821,1182.3" stroke="#1f879f" stroke-width="1" fill="none"/>
<polyline points="1823.2,995.3 1823.2,1181.3" stroke="#5bb3c7" stroke-width="0.6" fill="none"/>
<path d="M1732.4 1030.4 L1746.4 1033.4 C1748.2 1033.1 1753.7 1032.4 1757 1031.5 C1760.3 1030.6 1762.2 1030 1766.3 1028 C1770.3 1026 1775.2 1023.3 1781.3 1019.8 C1787.4 1016.3 1795.8 1011.3 1803 1007 C1810.2 1002.7 1821.2 996.2 1824.8 994" fill="none" stroke="#1f879f" stroke-width="3.4"/>
<path d="M1732.4 1030.4 L1746.4 1033.4 C1748.2 1033.1 1753.7 1032.4 1757 1031.5 C1760.3 1030.6 1762.2 1030 1766.3 1028 C1770.3 1026 1775.2 1023.3 1781.3 1019.8 C1787.4 1016.3 1795.8 1011.3 1803 1007 C1810.2 1002.7 1821.2 996.2 1824.8 994" fill="none" stroke="#d9f3f8" stroke-width="1.4"/>
<path d="M1449.5 1361.2 L1449.5 1247.2 L1455.3 1240.3 L1455.3 1223.5 L1496.6 1169.9 C1499.2 1168.4 1507.1 1162.9 1511.9 1161 C1516.8 1159.1 1521.9 1158.7 1525.7 1158.4 C1529.5 1158.1 1533.3 1159.1 1534.9 1159.2 L1616.7 1179.1 L1616.7 1293.8 L1614.4 1295.4 L1545.6 1277 C1543.3 1276.6 1536.1 1274.7 1531.8 1274.7 C1527.5 1274.7 1524.2 1275.4 1519.6 1277 C1515 1278.7 1508.6 1281.3 1504.3 1284.7 C1499.9 1288 1497.5 1292.3 1493.6 1296.9 C1489.6 1301.5 1482.7 1309.7 1480.6 1312.2 L1480.6 1374.9 L1478.3 1378 Z" fill="#c6dde4" stroke="#1f879f" stroke-width="1.1" fill-opacity="0.9"/>
<polyline points="1449.5,1247.2 1459.9,1252.2" stroke="#1f879f" stroke-width="1" fill="none"/>
<polyline points="1459.9,1252.2 1459.9,1278.5" stroke="#1f879f" stroke-width="1" fill="none"/>
<polyline points="1459.9,1278.5 1478.3,1289.3" stroke="#1f879f" stroke-width="1" fill="none"/>
<polyline points="1478.3,1289.3 1478.3,1378" stroke="#1f879f" stroke-width="1" fill="none"/>
<polyline points="1478.3,1289.3 1480.6,1287.7" stroke="#1f879f" stroke-width="1" fill="none"/>
<polyline points="1480.6,1287.7 1480.6,1312.2" stroke="#1f879f" stroke-width="1" fill="none"/>
<polyline points="1459.9,1252.2 1533.3,1159.9" stroke="#1f879f" stroke-width="1" fill="none"/>
<polyline points="1462.2,1255.6 1534.1,1164.5" stroke="#1f879f" stroke-width="1" fill="none"/>
<polyline points="1478.3,1289.3 1555.5,1195.9" stroke="#1f879f" stroke-width="1" fill="none"/>
<polyline points="1480.6,1287.7 1557.5,1194.4" stroke="#1f879f" stroke-width="1" fill="none"/>
<polyline points="1555.5,1195.9 1557.5,1193.6" stroke="#1f879f" stroke-width="1" fill="none"/>
<polyline points="1455.3,1223.5 1467.5,1225.7" stroke="#1f879f" stroke-width="1" fill="none"/>
<polyline points="1467.5,1225.7 1455.3,1240.3" stroke="#1f879f" stroke-width="1" fill="none"/>
<polyline points="1462.2,1255.6 1473.7,1240.3" stroke="#1f879f" stroke-width="1" fill="none"/>
<polyline points="1473.7,1240.3 1473.7,1250.2" stroke="#1f879f" stroke-width="1" fill="none"/>
<polyline points="1473.7,1250.2 1462.2,1264.8" stroke="#1f879f" stroke-width="1" fill="none"/>
<polyline points="1462.2,1255.6 1462.2,1264.8" stroke="#1f879f" stroke-width="1" fill="none"/>
<polyline points="1534.1,1164.5 1547.1,1165.3" stroke="#1f879f" stroke-width="1" fill="none"/>
<polyline points="1547.1,1165.3 1614.4,1182.9" stroke="#1f879f" stroke-width="1" fill="none"/>
<polyline points="1614.4,1182.9 1614.4,1295.4" stroke="#1f879f" stroke-width="1" fill="none"/>
<polyline points="1534.9,1159.2 1534.1,1164.5" stroke="#1f879f" stroke-width="1" fill="none"/>
<path d="M1519.6 1191.3 C1521.6 1190.7 1527.7 1188.3 1531.8 1187.8 C1535.9 1187.3 1539.8 1187.4 1544.1 1188.3 C1548.3 1189.1 1555.3 1192.3 1557.5 1193.2" fill="none" stroke="#1f879f" stroke-width="1"/>
</g>
<text x="77" y="346.3" font-size="42" font-weight="bold" fill="#2097b4" textLength="272.5" lengthAdjust="spacingAndGlyphs">curved lighting</text>
<rect x="363.3" y="315.5" width="2.2" height="38.3" fill="#1d1d1b"/>
<text x="381" y="346.3" font-size="27.5" fill="#1d1d1b" textLength="123.7" lengthAdjust="spacingAndGlyphs">“highline“</text>
<polyline points="74.6,364.4 737.4,364.4 941.5,493" stroke="#333" stroke-width="1.3" fill="none" stroke-dasharray="3 2.8"/>
<text x="1534.7" y="578.9" font-size="42" font-weight="bold" fill="#2097b4" textLength="221.5" lengthAdjust="spacingAndGlyphs">waiting area</text>
<rect x="1771.4" y="547" width="2.2" height="39" fill="#1d1d1b"/>
<text x="1788.8" y="578.9" font-size="27.5" fill="#1d1d1b" textLength="337.5" lengthAdjust="spacingAndGlyphs">“tram station with a bench“</text>
<polyline points="2145.3,595.2 1524.9,595.2 1288.2,718.8" stroke="#333" stroke-width="1.3" fill="none" stroke-dasharray="3 2.8"/>
<text x="1828.6" y="698.6" font-size="42" font-weight="bold" fill="#2097b4" textLength="345" lengthAdjust="spacingAndGlyphs">transparent curtain</text>
<rect x="2188.8" y="668.7" width="2.2" height="38.1" fill="#1d1d1b"/>
<text x="2206.8" y="698.6" font-size="27.5" fill="#1d1d1b" textLength="271.6" lengthAdjust="spacingAndGlyphs">insta-spot / education</text>
<polyline points="2485.4,714.4 1828.6,714.4 1522.2,857.6" stroke="#333" stroke-width="1.3" fill="none" stroke-dasharray="3 2.8"/>
<text x="83.3" y="1131.9" font-size="42" font-weight="bold" fill="#2097b4" textLength="273.5" lengthAdjust="spacingAndGlyphs">workspace unit</text>
<rect x="370.9" y="1103.6" width="2.2" height="36.4" fill="#1d1d1b"/>
<text x="388.4" y="1131.9" font-size="27.5" fill="#1d1d1b" textLength="277.2" lengthAdjust="spacingAndGlyphs">“tram ride experience“</text>
<polyline points="81.7,1151.5 678.2,1151.5 994,971.7" stroke="#333" stroke-width="1.3" fill="none" stroke-dasharray="3 2.8"/>
<text x="1829" y="1380.3" font-size="42" font-weight="bold" fill="#2097b4" textLength="167.3" lengthAdjust="spacingAndGlyphs">reception</text>
<rect x="2012.6" y="1349.8" width="2.2" height="39.7" fill="#1d1d1b"/>
<text x="2030" y="1380.3" font-size="27.5" fill="#1d1d1b" textLength="356.8" lengthAdjust="spacingAndGlyphs">the starting and ending point</text>
<polyline points="2397.7,1398.2 1781.1,1398.2 1556.7,1309.5" stroke="#333" stroke-width="1.3" fill="none" stroke-dasharray="3 2.8"/>
<circle cx="420.5" cy="1416.8" r="50" fill="none" stroke="#fbc95f" stroke-width="3.4"/>
<line x1="486.5" y1="1416.8" x2="521" y2="1416.8" stroke="#fbc95f" stroke-width="3.4" stroke-linecap="round"/>
<line x1="477.7" y1="1383.8" x2="521.8" y2="1358.3" stroke="#fbc95f" stroke-width="3.4" stroke-linecap="round"/>
<line x1="453.5" y1="1359.6" x2="470.8" y2="1329.8" stroke="#fbc95f" stroke-width="3.4" stroke-linecap="round"/>
<line x1="420.5" y1="1350.8" x2="420.5" y2="1299.8" stroke="#fbc95f" stroke-width="3.4" stroke-linecap="round"/>
<line x1="387.5" y1="1359.6" x2="370.2" y2="1329.8" stroke="#fbc95f" stroke-width="3.4" stroke-linecap="round"/>
<line x1="363.3" y1="1383.8" x2="319.2" y2="1358.3" stroke="#fbc95f" stroke-width="3.4" stroke-linecap="round"/>
<line x1="354.5" y1="1416.8" x2="320" y2="1416.8" stroke="#fbc95f" stroke-width="3.4" stroke-linecap="round"/>
<line x1="363.3" y1="1449.8" x2="319.2" y2="1475.3" stroke="#fbc95f" stroke-width="3.4" stroke-linecap="round"/>
<line x1="387.5" y1="1474" x2="370.2" y2="1503.8" stroke="#fbc95f" stroke-width="3.4" stroke-linecap="round"/>
<line x1="420.5" y1="1482.8" x2="420.5" y2="1533.8" stroke="#fbc95f" stroke-width="3.4" stroke-linecap="round"/>
<line x1="453.5" y1="1474" x2="470.8" y2="1503.8" stroke="#fbc95f" stroke-width="3.4" stroke-linecap="round"/>
<line x1="477.7" y1="1449.8" x2="521.8" y2="1475.3" stroke="#fbc95f" stroke-width="3.4" stroke-linecap="round"/>
<text x="573" y="1423.8" font-size="38" font-weight="bold" fill="#fccb67" textLength="328.4" lengthAdjust="spacingAndGlyphs">no sun interference</text>
<circle cx="1904.8" cy="236.5" r="43" fill="none" stroke="#222" stroke-width="1.3"/>
<line x1="1867.5" y1="258.5" x2="1905.3" y2="236.5" stroke="#1d1d1b" stroke-width="12.9" stroke-linecap="round"/>
<polyline points="1812.3,281.1 1842.6,264.2 1825.9,300.6 1854.9,283.8" fill="none" stroke="#1d1d1b" stroke-width="3.8" stroke-linejoin="miter" stroke-miterlimit="10"/>
<text transform="translate(574 838) rotate(30)" font-size="27" fill="#1d1d1b" text-anchor="start" textLength="192" lengthAdjust="spacingAndGlyphs">display window</text>
<text transform="translate(882 1015) rotate(30)" font-size="27" fill="#1d1d1b" text-anchor="start" textLength="192" lengthAdjust="spacingAndGlyphs">display window</text>
<text transform="translate(984.1 521.8) rotate(-30)" font-size="28.6" fill="#1d1d1b" text-anchor="middle">hair</text>
<text transform="translate(1005.9 554.5) rotate(-30)" font-size="28.6" fill="#1d1d1b" text-anchor="middle">washing</text>
<text transform="translate(1022.2 587.1) rotate(-30)" font-size="28.6" fill="#1d1d1b" text-anchor="middle">station</text>
</svg>
</body></html>
